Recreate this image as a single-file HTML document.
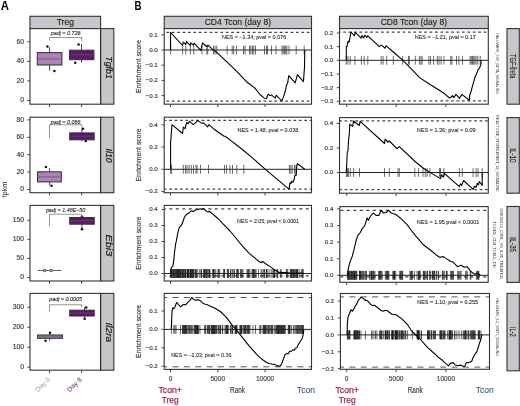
<!DOCTYPE html>
<html><head><meta charset="utf-8"><style>
html,body{margin:0;padding:0;background:#fff;overflow:hidden;width:520px;height:406px;}
svg{display:block;will-change:transform;}
text{font-family:"Liberation Sans", sans-serif;}
</style></head><body>
<svg xmlns="http://www.w3.org/2000/svg" width="520" height="406" viewBox="0 0 520 406">
<rect width="520" height="406" fill="#fff"/>
<text x="0.8" y="9.6" font-size="12.0" fill="#000" text-anchor="start" font-weight="bold" textLength="8.2" lengthAdjust="spacingAndGlyphs" style="">A</text>
<text x="134.5" y="9.6" font-size="12.0" fill="#000" text-anchor="start" font-weight="bold" textLength="7.0" lengthAdjust="spacingAndGlyphs" style="">B</text>
<rect x="30" y="16.3" width="70.6" height="12.3" fill="#c7c6cb" stroke="#333333" stroke-width="1.1" />
<text x="65.3" y="24.6" font-size="8.4" fill="#1a1a1a" text-anchor="middle" textLength="17.3" lengthAdjust="spacingAndGlyphs" stroke="#1a1a1a" stroke-width="0.12" style="">Treg</text>
<rect x="164.2" y="16.3" width="147.3" height="12.3" fill="#c7c6cb" stroke="#333333" stroke-width="1.1" />
<text x="237.85" y="24.6" font-size="8.4" fill="#1a1a1a" text-anchor="middle" textLength="66.4" lengthAdjust="spacingAndGlyphs" stroke="#1a1a1a" stroke-width="0.12" style="">CD4 Tcon (day 8)</text>
<rect x="339.5" y="16.3" width="148.8" height="12.3" fill="#c7c6cb" stroke="#333333" stroke-width="1.1" />
<text x="413.9" y="24.6" font-size="8.4" fill="#1a1a1a" text-anchor="middle" textLength="66.4" lengthAdjust="spacingAndGlyphs" stroke="#1a1a1a" stroke-width="0.12" style="">CD8 Tcon (day 8)</text>
<rect x="30.0" y="28.6" width="70.6" height="75.6" fill="#fff" stroke="none"/>
<rect x="100.6" y="28.6" width="13.2" height="75.6" fill="#c7c6cb" stroke="#333333" stroke-width="1.1" />
<text x="0" y="0" font-size="8.4" fill="#1a1a1a" stroke="#1a1a1a" stroke-width="0.2" text-anchor="middle" transform="translate(105.5,67.6) rotate(90)" textLength="22.6" lengthAdjust="spacingAndGlyphs" style="font-style:italic">Tgfb1</text>
<line x1="27.3" y1="100.5" x2="30" y2="100.5" stroke="#333333" stroke-width="0.9" />
<text x="24" y="102.4" font-size="6.8" fill="#3a3a3a" text-anchor="end" stroke="#3a3a3a" stroke-width="0.15" style="">0</text>
<line x1="27.3" y1="80.93" x2="30" y2="80.93" stroke="#333333" stroke-width="0.9" />
<text x="24" y="82.83" font-size="6.8" fill="#3a3a3a" text-anchor="end" stroke="#3a3a3a" stroke-width="0.15" style="">20</text>
<line x1="27.3" y1="61.36" x2="30" y2="61.36" stroke="#333333" stroke-width="0.9" />
<text x="24" y="63.26" font-size="6.8" fill="#3a3a3a" text-anchor="end" stroke="#3a3a3a" stroke-width="0.15" style="">40</text>
<line x1="27.3" y1="41.79" x2="30" y2="41.79" stroke="#333333" stroke-width="0.9" />
<text x="24" y="43.69" font-size="6.8" fill="#3a3a3a" text-anchor="end" stroke="#3a3a3a" stroke-width="0.15" style="">60</text>
<line x1="49.5" y1="104.2" x2="49.5" y2="107" stroke="#333333" stroke-width="0.9" />
<line x1="81.6" y1="104.2" x2="81.6" y2="107" stroke="#333333" stroke-width="0.9" />
<rect x="30.0" y="117.2" width="70.6" height="75.5" fill="#fff" stroke="none"/>
<rect x="100.6" y="117.2" width="13.2" height="75.5" fill="#c7c6cb" stroke="#333333" stroke-width="1.1" />
<text x="0" y="0" font-size="8.4" fill="#1a1a1a" stroke="#1a1a1a" stroke-width="0.2" text-anchor="middle" transform="translate(105.5,155.6) rotate(90)" textLength="14.2" lengthAdjust="spacingAndGlyphs" style="font-style:italic">Il10</text>
<line x1="27.3" y1="189.5" x2="30" y2="189.5" stroke="#333333" stroke-width="0.9" />
<text x="24" y="191.4" font-size="6.8" fill="#3a3a3a" text-anchor="end" stroke="#3a3a3a" stroke-width="0.15" style="">0</text>
<line x1="27.3" y1="172.1" x2="30" y2="172.1" stroke="#333333" stroke-width="0.9" />
<text x="24" y="174" font-size="6.8" fill="#3a3a3a" text-anchor="end" stroke="#3a3a3a" stroke-width="0.15" style="">20</text>
<line x1="27.3" y1="154.7" x2="30" y2="154.7" stroke="#333333" stroke-width="0.9" />
<text x="24" y="156.6" font-size="6.8" fill="#3a3a3a" text-anchor="end" stroke="#3a3a3a" stroke-width="0.15" style="">40</text>
<line x1="27.3" y1="137.3" x2="30" y2="137.3" stroke="#333333" stroke-width="0.9" />
<text x="24" y="139.2" font-size="6.8" fill="#3a3a3a" text-anchor="end" stroke="#3a3a3a" stroke-width="0.15" style="">60</text>
<line x1="27.3" y1="119.9" x2="30" y2="119.9" stroke="#333333" stroke-width="0.9" />
<text x="24" y="121.8" font-size="6.8" fill="#3a3a3a" text-anchor="end" stroke="#3a3a3a" stroke-width="0.15" style="">80</text>
<line x1="49.5" y1="192.7" x2="49.5" y2="195.5" stroke="#333333" stroke-width="0.9" />
<line x1="81.6" y1="192.7" x2="81.6" y2="195.5" stroke="#333333" stroke-width="0.9" />
<rect x="30.0" y="205.4" width="70.6" height="75.6" fill="#fff" stroke="none"/>
<rect x="100.6" y="205.4" width="13.2" height="75.6" fill="#c7c6cb" stroke="#333333" stroke-width="1.1" />
<text x="0" y="0" font-size="8.4" fill="#1a1a1a" stroke="#1a1a1a" stroke-width="0.2" text-anchor="middle" transform="translate(105.5,245.3) rotate(90)" textLength="21.7" lengthAdjust="spacingAndGlyphs" style="font-style:italic">Ebi3</text>
<line x1="27.3" y1="277.5" x2="30" y2="277.5" stroke="#333333" stroke-width="0.9" />
<text x="24" y="279.4" font-size="6.8" fill="#3a3a3a" text-anchor="end" stroke="#3a3a3a" stroke-width="0.15" style="">0</text>
<line x1="27.3" y1="258.43" x2="30" y2="258.43" stroke="#333333" stroke-width="0.9" />
<text x="24" y="260.33" font-size="6.8" fill="#3a3a3a" text-anchor="end" stroke="#3a3a3a" stroke-width="0.15" style="">50</text>
<line x1="27.3" y1="239.36" x2="30" y2="239.36" stroke="#333333" stroke-width="0.9" />
<text x="24" y="241.26" font-size="6.8" fill="#3a3a3a" text-anchor="end" stroke="#3a3a3a" stroke-width="0.15" style="">100</text>
<line x1="27.3" y1="220.29" x2="30" y2="220.29" stroke="#333333" stroke-width="0.9" />
<text x="24" y="222.19" font-size="6.8" fill="#3a3a3a" text-anchor="end" stroke="#3a3a3a" stroke-width="0.15" style="">150</text>
<line x1="49.5" y1="281" x2="49.5" y2="283.8" stroke="#333333" stroke-width="0.9" />
<line x1="81.6" y1="281" x2="81.6" y2="283.8" stroke="#333333" stroke-width="0.9" />
<rect x="30.0" y="293.4" width="70.6" height="76.8" fill="#fff" stroke="none"/>
<rect x="100.6" y="293.4" width="13.2" height="76.8" fill="#c7c6cb" stroke="#333333" stroke-width="1.1" />
<text x="0" y="0" font-size="8.4" fill="#1a1a1a" stroke="#1a1a1a" stroke-width="0.2" text-anchor="middle" transform="translate(105.5,332.3) rotate(90)" textLength="19.7" lengthAdjust="spacingAndGlyphs" style="font-style:italic">Il2ra</text>
<line x1="27.3" y1="367.2" x2="30" y2="367.2" stroke="#333333" stroke-width="0.9" />
<text x="24" y="369.1" font-size="6.8" fill="#3a3a3a" text-anchor="end" stroke="#3a3a3a" stroke-width="0.15" style="">0</text>
<line x1="27.3" y1="347.23" x2="30" y2="347.23" stroke="#333333" stroke-width="0.9" />
<text x="24" y="349.13" font-size="6.8" fill="#3a3a3a" text-anchor="end" stroke="#3a3a3a" stroke-width="0.15" style="">100</text>
<line x1="27.3" y1="327.27" x2="30" y2="327.27" stroke="#333333" stroke-width="0.9" />
<text x="24" y="329.17" font-size="6.8" fill="#3a3a3a" text-anchor="end" stroke="#3a3a3a" stroke-width="0.15" style="">200</text>
<line x1="27.3" y1="307.3" x2="30" y2="307.3" stroke="#333333" stroke-width="0.9" />
<text x="24" y="309.2" font-size="6.8" fill="#3a3a3a" text-anchor="end" stroke="#3a3a3a" stroke-width="0.15" style="">300</text>
<line x1="49.5" y1="370.2" x2="49.5" y2="373" stroke="#333333" stroke-width="0.9" />
<line x1="81.6" y1="370.2" x2="81.6" y2="373" stroke="#333333" stroke-width="0.9" />
<line x1="49.6" y1="47.1" x2="49.6" y2="52.6" stroke="#333" stroke-width="0.9" />
<line x1="49.6" y1="65" x2="49.6" y2="70.8" stroke="#333" stroke-width="0.9" />
<rect x="37.3" y="52.6" width="24.6" height="12.4" fill="#ab84b6" stroke="#3d2f42" stroke-width="1.05" />
<line x1="37.3" y1="58.9" x2="61.9" y2="58.9" stroke="#7d5487" stroke-width="1.0" />
<circle cx="47.4" cy="46.5" r="1.25" fill="#111"/>
<circle cx="54.4" cy="71" r="1.25" fill="#111"/>
<line x1="81.5" y1="44" x2="81.5" y2="50.2" stroke="#333" stroke-width="0.9" />
<line x1="81.5" y1="59.7" x2="81.5" y2="62.6" stroke="#333" stroke-width="0.9" />
<rect x="69.5" y="50.2" width="24.4" height="9.5" fill="#581b64" stroke="#3d2f42" stroke-width="1.05" />
<line x1="69.5" y1="54.7" x2="93.9" y2="54.7" stroke="#7a2f88" stroke-width="1.0" />
<circle cx="78.6" cy="44.4" r="1.25" fill="#111"/>
<circle cx="75.2" cy="62.8" r="1.25" fill="#111"/>
<line x1="81.8" y1="128.5" x2="81.8" y2="132.9" stroke="#333" stroke-width="0.9" />
<line x1="81.8" y1="139.8" x2="81.8" y2="141" stroke="#333" stroke-width="0.9" />
<rect x="69.7" y="132.9" width="24.5" height="6.9" fill="#581b64" stroke="#3d2f42" stroke-width="1.05" />
<line x1="69.7" y1="136.2" x2="94.2" y2="136.2" stroke="#7a2f88" stroke-width="1.0" />
<circle cx="83" cy="128.7" r="1.25" fill="#111"/>
<circle cx="85.8" cy="140.9" r="1.25" fill="#111"/>
<line x1="49.6" y1="168" x2="49.6" y2="171.8" stroke="#333" stroke-width="0.9" />
<line x1="49.6" y1="181.9" x2="49.6" y2="185.5" stroke="#333" stroke-width="0.9" />
<rect x="37.5" y="171.8" width="23.8" height="10.1" fill="#ab84b6" stroke="#3d2f42" stroke-width="1.05" />
<line x1="37.5" y1="176.9" x2="61.3" y2="176.9" stroke="#7d5487" stroke-width="1.0" />
<circle cx="45.9" cy="166.9" r="1.25" fill="#111"/>
<circle cx="51.5" cy="185.7" r="1.25" fill="#111"/>
<line x1="81.9" y1="216.5" x2="81.9" y2="217.5" stroke="#333" stroke-width="0.9" />
<line x1="81.9" y1="224.2" x2="81.9" y2="229.2" stroke="#333" stroke-width="0.9" />
<rect x="69.7" y="217.5" width="24.5" height="6.7" fill="#581b64" stroke="#3d2f42" stroke-width="1.05" />
<line x1="69.7" y1="220.8" x2="94.2" y2="220.8" stroke="#7a2f88" stroke-width="1.0" />
<circle cx="81.9" cy="216.5" r="1.25" fill="#111"/>
<circle cx="82" cy="229.2" r="1.25" fill="#111"/>
<line x1="37.5" y1="270.5" x2="61.5" y2="270.5" stroke="#6e6470" stroke-width="1.1" />
<circle cx="44.6" cy="270.5" r="1.3" fill="#bbb" stroke="#222" stroke-width="0.7"/>
<circle cx="51.2" cy="270.5" r="1.3" fill="#bbb" stroke="#222" stroke-width="0.7"/>
<line x1="84.5" y1="307.4" x2="84.5" y2="310.2" stroke="#333" stroke-width="0.9" />
<line x1="84.5" y1="316" x2="84.5" y2="318.8" stroke="#333" stroke-width="0.9" />
<rect x="69.7" y="310.2" width="24.5" height="5.8" fill="#581b64" stroke="#3d2f42" stroke-width="1.05" />
<line x1="69.7" y1="313" x2="94.2" y2="313" stroke="#7a2f88" stroke-width="1.0" />
<circle cx="86.2" cy="307.4" r="1.25" fill="#111"/>
<circle cx="84.7" cy="318.8" r="1.25" fill="#111"/>
<line x1="49.6" y1="332.8" x2="49.6" y2="335" stroke="#333" stroke-width="0.9" />
<line x1="49.6" y1="338.3" x2="49.6" y2="340.7" stroke="#333" stroke-width="0.9" />
<rect x="37.5" y="335" width="25" height="3.3" fill="#93809a" stroke="#3d2f42" stroke-width="1.05" />
<line x1="37.5" y1="336.6" x2="62.5" y2="336.6" stroke="#7d6a84" stroke-width="1.0" />
<circle cx="50" cy="332.8" r="1.25" fill="#111"/>
<circle cx="45.5" cy="340.7" r="1.25" fill="#111"/>
<polyline points="49.5,40.8 49.5,37.4 81.7,37.4 81.7,41.5" fill="none" stroke="#999999" stroke-width="1.05"/>
<text x="65.6" y="35.3" font-size="5.4" fill="#222" text-anchor="middle" stroke="#222" stroke-width="0.1" style="font-style:italic">padj = 0.736</text>
<polyline points="49.5,138.1 49.5,124.8 81.7,124.8 81.7,127.6" fill="none" stroke="#999999" stroke-width="1.05"/>
<text x="65.6" y="123.5" font-size="5.4" fill="#222" text-anchor="middle" stroke="#222" stroke-width="0.1" style="font-style:italic">padj = 0.066</text>
<polyline points="49.5,226.6 49.5,214.2 81.7,214.2 81.7,216.8" fill="none" stroke="#999999" stroke-width="1.05"/>
<text x="65.6" y="212.1" font-size="5.4" fill="#222" text-anchor="middle" stroke="#222" stroke-width="0.1" style="font-style:italic">padj = 1.48E–50</text>
<polyline points="49.5,311.7 49.5,304.7 81.7,304.7 81.7,307.0" fill="none" stroke="#999999" stroke-width="1.05"/>
<text x="65.6" y="300.5" font-size="5.4" fill="#222" text-anchor="middle" stroke="#222" stroke-width="0.1" style="font-style:italic">padj = 0.0005</text>
<rect x="30" y="28.6" width="70.6" height="75.6" fill="none" stroke="#333333" stroke-width="1.1" />
<rect x="30" y="117.2" width="70.6" height="75.5" fill="none" stroke="#333333" stroke-width="1.1" />
<rect x="30" y="205.4" width="70.6" height="75.6" fill="none" stroke="#333333" stroke-width="1.1" />
<rect x="30" y="293.4" width="70.6" height="76.8" fill="none" stroke="#333333" stroke-width="1.1" />
<text x="0" y="0" font-size="7.4" fill="#333" text-anchor="middle" transform="translate(7.3,189.5) rotate(-90)">fpkm</text>
<text x="0" y="0" font-size="6.8" fill="#b291bf" text-anchor="end" transform="translate(50.6,380.0) rotate(-45)">Day 0</text>
<text x="0" y="0" font-size="6.8" fill="#5b2a6b" text-anchor="end" transform="translate(82.4,380.0) rotate(-45)">Day 8</text>
<rect x="164.2" y="28.6" width="147.3" height="75.6" fill="#fff" stroke="none"/>
<line x1="164.7" y1="32.3" x2="311" y2="32.3" stroke="#444" stroke-width="1.2" stroke-dasharray="2.7 2.7" stroke-dashoffset="3.7"/>
<line x1="164.7" y1="101.2" x2="311" y2="101.2" stroke="#444" stroke-width="1.2" stroke-dasharray="2.7 2.7" stroke-dashoffset="3.7"/>
<line x1="164.2" y1="50" x2="311.5" y2="50" stroke="#222" stroke-width="1.0" />
<line x1="170.7" y1="45.6" x2="170.7" y2="54.4" stroke="#3a3a3a" stroke-width="0.75" />
<line x1="182.6" y1="45.6" x2="182.6" y2="54.4" stroke="#3a3a3a" stroke-width="0.75" />
<line x1="185.8" y1="45.6" x2="185.8" y2="54.4" stroke="#3a3a3a" stroke-width="0.75" />
<line x1="190.4" y1="45.6" x2="190.4" y2="54.4" stroke="#3a3a3a" stroke-width="0.75" />
<line x1="193.7" y1="45.6" x2="193.7" y2="54.4" stroke="#3a3a3a" stroke-width="0.75" />
<line x1="201.9" y1="45.6" x2="201.9" y2="54.4" stroke="#3a3a3a" stroke-width="0.75" />
<line x1="206.8" y1="45.6" x2="206.8" y2="54.4" stroke="#3a3a3a" stroke-width="0.75" />
<line x1="207.7" y1="45.6" x2="207.7" y2="54.4" stroke="#3a3a3a" stroke-width="0.75" />
<line x1="213.5" y1="45.6" x2="213.5" y2="54.4" stroke="#3a3a3a" stroke-width="0.75" />
<line x1="215" y1="45.6" x2="215" y2="54.4" stroke="#3a3a3a" stroke-width="0.75" />
<line x1="216.8" y1="45.6" x2="216.8" y2="54.4" stroke="#3a3a3a" stroke-width="0.75" />
<line x1="227.2" y1="45.6" x2="227.2" y2="54.4" stroke="#3a3a3a" stroke-width="0.75" />
<line x1="232.2" y1="45.6" x2="232.2" y2="54.4" stroke="#3a3a3a" stroke-width="0.75" />
<line x1="233.7" y1="45.6" x2="233.7" y2="54.4" stroke="#3a3a3a" stroke-width="0.75" />
<line x1="236.5" y1="45.6" x2="236.5" y2="54.4" stroke="#3a3a3a" stroke-width="0.75" />
<line x1="243.5" y1="45.6" x2="243.5" y2="54.4" stroke="#3a3a3a" stroke-width="0.75" />
<line x1="245" y1="45.6" x2="245" y2="54.4" stroke="#3a3a3a" stroke-width="0.75" />
<line x1="249.5" y1="45.6" x2="249.5" y2="54.4" stroke="#3a3a3a" stroke-width="0.75" />
<line x1="250.8" y1="45.6" x2="250.8" y2="54.4" stroke="#3a3a3a" stroke-width="0.75" />
<line x1="252.5" y1="45.6" x2="252.5" y2="54.4" stroke="#3a3a3a" stroke-width="0.75" />
<line x1="253.7" y1="45.6" x2="253.7" y2="54.4" stroke="#3a3a3a" stroke-width="0.75" />
<line x1="255.5" y1="45.6" x2="255.5" y2="54.4" stroke="#3a3a3a" stroke-width="0.75" />
<line x1="264.5" y1="45.6" x2="264.5" y2="54.4" stroke="#3a3a3a" stroke-width="0.75" />
<line x1="266.5" y1="45.6" x2="266.5" y2="54.4" stroke="#3a3a3a" stroke-width="0.75" />
<line x1="267.5" y1="45.6" x2="267.5" y2="54.4" stroke="#3a3a3a" stroke-width="0.75" />
<line x1="271.5" y1="45.6" x2="271.5" y2="54.4" stroke="#3a3a3a" stroke-width="0.75" />
<line x1="276" y1="45.6" x2="276" y2="54.4" stroke="#3a3a3a" stroke-width="0.75" />
<line x1="282" y1="45.6" x2="282" y2="54.4" stroke="#3a3a3a" stroke-width="0.75" />
<line x1="283.2" y1="45.6" x2="283.2" y2="54.4" stroke="#3a3a3a" stroke-width="0.75" />
<line x1="284.5" y1="45.6" x2="284.5" y2="54.4" stroke="#3a3a3a" stroke-width="0.75" />
<line x1="285.8" y1="45.6" x2="285.8" y2="54.4" stroke="#3a3a3a" stroke-width="0.75" />
<line x1="286.8" y1="45.6" x2="286.8" y2="54.4" stroke="#3a3a3a" stroke-width="0.75" />
<line x1="289" y1="45.6" x2="289" y2="54.4" stroke="#3a3a3a" stroke-width="0.75" />
<line x1="296.2" y1="45.6" x2="296.2" y2="54.4" stroke="#3a3a3a" stroke-width="0.75" />
<line x1="304.2" y1="45.6" x2="304.2" y2="54.4" stroke="#3a3a3a" stroke-width="0.75" />
<polyline points="170.5,50 170.5,32.3 182.6,45.5 183.2,42.2 185.8,44.5 186.5,41.3 190.1,45.5 190.7,42.9 193.4,45.2 194,43.2 200.9,50.4 202.5,42.9 206.4,46.5 208.1,45.2 213.5,50.4 215,51.3 216.8,52.4 236,70.7 247.2,82.3 254.7,87.9 260,94.5 264.3,98.2 266.5,98.5 268.1,94.2 270.3,95.6 271.4,94.9 275.2,98.2 276.3,95.2 281.7,101 283.3,97.4 285.2,91.5 286.6,84.9 287.7,82.8 288.7,75.7 295.2,82.8 297.4,74.6 303.4,81.7 303.9,75.2 304.5,67.6 304.8,50" fill="none" stroke="#000" stroke-width="1.1" stroke-linejoin="round" />
<text x="222" y="38.6" font-size="5.6" fill="#2a2a2a" text-anchor="start" textLength="64.3" lengthAdjust="spacingAndGlyphs" stroke="#2a2a2a" stroke-width="0.1" style="">NES = –1.34; pval = 0.076</text>
<line x1="161.5" y1="34.8" x2="164.2" y2="34.8" stroke="#333333" stroke-width="0.9" />
<text x="157.8" y="36.7" font-size="6.2" fill="#3a3a3a" text-anchor="end" stroke="#3a3a3a" stroke-width="0.15" style="">0.1</text>
<line x1="161.5" y1="50" x2="164.2" y2="50" stroke="#333333" stroke-width="0.9" />
<text x="157.8" y="51.9" font-size="6.2" fill="#3a3a3a" text-anchor="end" stroke="#3a3a3a" stroke-width="0.15" style="">0.0</text>
<line x1="161.5" y1="65.2" x2="164.2" y2="65.2" stroke="#333333" stroke-width="0.9" />
<text x="157.8" y="67.1" font-size="6.2" fill="#3a3a3a" text-anchor="end" stroke="#3a3a3a" stroke-width="0.15" style="">−0.1</text>
<line x1="161.5" y1="80.4" x2="164.2" y2="80.4" stroke="#333333" stroke-width="0.9" />
<text x="157.8" y="82.3" font-size="6.2" fill="#3a3a3a" text-anchor="end" stroke="#3a3a3a" stroke-width="0.15" style="">−0.2</text>
<line x1="161.5" y1="95.6" x2="164.2" y2="95.6" stroke="#333333" stroke-width="0.9" />
<text x="157.8" y="97.5" font-size="6.2" fill="#3a3a3a" text-anchor="end" stroke="#3a3a3a" stroke-width="0.15" style="">−0.3</text>
<line x1="170.5" y1="104.2" x2="170.5" y2="107" stroke="#333333" stroke-width="0.9" />
<line x1="217.8" y1="104.2" x2="217.8" y2="107" stroke="#333333" stroke-width="0.9" />
<line x1="265.1" y1="104.2" x2="265.1" y2="107" stroke="#333333" stroke-width="0.9" />
<rect x="164.2" y="28.6" width="147.3" height="75.6" fill="none" stroke="#333333" stroke-width="1.1" />
<rect x="339.5" y="28.6" width="148.8" height="75.6" fill="#fff" stroke="none"/>
<line x1="340" y1="32.1" x2="487.8" y2="32.1" stroke="#444" stroke-width="1.2" stroke-dasharray="2.7 2.7" stroke-dashoffset="2.2"/>
<line x1="340" y1="100.8" x2="487.8" y2="100.8" stroke="#444" stroke-width="1.2" stroke-dasharray="2.7 2.7" stroke-dashoffset="2.2"/>
<line x1="339.5" y1="60.3" x2="488.3" y2="60.3" stroke="#222" stroke-width="1.0" />
<line x1="346.3" y1="55.9" x2="346.3" y2="64.7" stroke="#3a3a3a" stroke-width="0.75" />
<line x1="348" y1="55.9" x2="348" y2="64.7" stroke="#3a3a3a" stroke-width="0.75" />
<line x1="350.2" y1="55.9" x2="350.2" y2="64.7" stroke="#3a3a3a" stroke-width="0.75" />
<line x1="354.9" y1="55.9" x2="354.9" y2="64.7" stroke="#3a3a3a" stroke-width="0.75" />
<line x1="361.4" y1="55.9" x2="361.4" y2="64.7" stroke="#3a3a3a" stroke-width="0.75" />
<line x1="364.2" y1="55.9" x2="364.2" y2="64.7" stroke="#3a3a3a" stroke-width="0.75" />
<line x1="367.8" y1="55.9" x2="367.8" y2="64.7" stroke="#3a3a3a" stroke-width="0.75" />
<line x1="381.2" y1="55.9" x2="381.2" y2="64.7" stroke="#3a3a3a" stroke-width="0.75" />
<line x1="383.1" y1="55.9" x2="383.1" y2="64.7" stroke="#3a3a3a" stroke-width="0.75" />
<line x1="386.7" y1="55.9" x2="386.7" y2="64.7" stroke="#3a3a3a" stroke-width="0.75" />
<line x1="393.3" y1="55.9" x2="393.3" y2="64.7" stroke="#3a3a3a" stroke-width="0.75" />
<line x1="402.6" y1="55.9" x2="402.6" y2="64.7" stroke="#3a3a3a" stroke-width="0.75" />
<line x1="408.5" y1="55.9" x2="408.5" y2="64.7" stroke="#3a3a3a" stroke-width="0.75" />
<line x1="409.3" y1="55.9" x2="409.3" y2="64.7" stroke="#3a3a3a" stroke-width="0.75" />
<line x1="415.3" y1="55.9" x2="415.3" y2="64.7" stroke="#3a3a3a" stroke-width="0.75" />
<line x1="419.4" y1="55.9" x2="419.4" y2="64.7" stroke="#3a3a3a" stroke-width="0.75" />
<line x1="421" y1="55.9" x2="421" y2="64.7" stroke="#3a3a3a" stroke-width="0.75" />
<line x1="422.1" y1="55.9" x2="422.1" y2="64.7" stroke="#3a3a3a" stroke-width="0.75" />
<line x1="428.9" y1="55.9" x2="428.9" y2="64.7" stroke="#3a3a3a" stroke-width="0.75" />
<line x1="430.5" y1="55.9" x2="430.5" y2="64.7" stroke="#3a3a3a" stroke-width="0.75" />
<line x1="433.6" y1="55.9" x2="433.6" y2="64.7" stroke="#3a3a3a" stroke-width="0.75" />
<line x1="437.3" y1="55.9" x2="437.3" y2="64.7" stroke="#3a3a3a" stroke-width="0.75" />
<line x1="439" y1="55.9" x2="439" y2="64.7" stroke="#3a3a3a" stroke-width="0.75" />
<line x1="441.1" y1="55.9" x2="441.1" y2="64.7" stroke="#3a3a3a" stroke-width="0.75" />
<line x1="444" y1="55.9" x2="444" y2="64.7" stroke="#3a3a3a" stroke-width="0.75" />
<line x1="450.8" y1="55.9" x2="450.8" y2="64.7" stroke="#3a3a3a" stroke-width="0.75" />
<line x1="451.9" y1="55.9" x2="451.9" y2="64.7" stroke="#3a3a3a" stroke-width="0.75" />
<line x1="456.5" y1="55.9" x2="456.5" y2="64.7" stroke="#3a3a3a" stroke-width="0.75" />
<line x1="458.9" y1="55.9" x2="458.9" y2="64.7" stroke="#3a3a3a" stroke-width="0.75" />
<line x1="462.5" y1="55.9" x2="462.5" y2="64.7" stroke="#3a3a3a" stroke-width="0.75" />
<line x1="470.1" y1="55.9" x2="470.1" y2="64.7" stroke="#3a3a3a" stroke-width="0.75" />
<line x1="471.3" y1="55.9" x2="471.3" y2="64.7" stroke="#3a3a3a" stroke-width="0.75" />
<line x1="472.5" y1="55.9" x2="472.5" y2="64.7" stroke="#3a3a3a" stroke-width="0.75" />
<line x1="473.7" y1="55.9" x2="473.7" y2="64.7" stroke="#3a3a3a" stroke-width="0.75" />
<line x1="474.9" y1="55.9" x2="474.9" y2="64.7" stroke="#3a3a3a" stroke-width="0.75" />
<line x1="476.1" y1="55.9" x2="476.1" y2="64.7" stroke="#3a3a3a" stroke-width="0.75" />
<line x1="477.8" y1="55.9" x2="477.8" y2="64.7" stroke="#3a3a3a" stroke-width="0.75" />
<line x1="480.2" y1="55.9" x2="480.2" y2="64.7" stroke="#3a3a3a" stroke-width="0.75" />
<polyline points="346.3,60.3 346.3,46.6 347,46.4 348,41.3 349.1,42.2 350,37.3 350.7,33.3 351.1,32 354.4,36 355.3,32.4 361.1,38.2 362,35.5 363.8,37.8 364.9,35.1 366.9,37.3 367.8,35.8 379.3,46.7 381.1,45.2 382.4,45.8 384.9,48.2 386.2,45.8 393.3,52 402.7,60.2 412,69.6 419.5,77.6 428.9,83.8 440.1,90.7 444.7,93.8 449.5,98 451.2,97.1 452.4,95.6 453.6,97.6 456,94.4 459.5,98.3 461.9,94.4 469.3,100.3 469.8,95 471,91.5 473.1,83.8 474.9,77.3 476.6,73.7 478.1,69.6 479.6,67.8 480.8,64.9 481.2,60.3" fill="none" stroke="#000" stroke-width="1.1" stroke-linejoin="round" />
<text x="414.8" y="38.7" font-size="5.6" fill="#2a2a2a" text-anchor="start" textLength="60.9" lengthAdjust="spacingAndGlyphs" stroke="#2a2a2a" stroke-width="0.1" style="">NES = –1.21; pval = 0.17</text>
<line x1="336.8" y1="32.94" x2="339.5" y2="32.94" stroke="#333333" stroke-width="0.9" />
<text x="333.1" y="34.84" font-size="6.2" fill="#3a3a3a" text-anchor="end" stroke="#3a3a3a" stroke-width="0.15" style="">0.2</text>
<line x1="336.8" y1="46.62" x2="339.5" y2="46.62" stroke="#333333" stroke-width="0.9" />
<text x="333.1" y="48.52" font-size="6.2" fill="#3a3a3a" text-anchor="end" stroke="#3a3a3a" stroke-width="0.15" style="">0.1</text>
<line x1="336.8" y1="60.3" x2="339.5" y2="60.3" stroke="#333333" stroke-width="0.9" />
<text x="333.1" y="62.2" font-size="6.2" fill="#3a3a3a" text-anchor="end" stroke="#3a3a3a" stroke-width="0.15" style="">0.0</text>
<line x1="336.8" y1="73.98" x2="339.5" y2="73.98" stroke="#333333" stroke-width="0.9" />
<text x="333.1" y="75.88" font-size="6.2" fill="#3a3a3a" text-anchor="end" stroke="#3a3a3a" stroke-width="0.15" style="">−0.1</text>
<line x1="336.8" y1="87.66" x2="339.5" y2="87.66" stroke="#333333" stroke-width="0.9" />
<text x="333.1" y="89.56" font-size="6.2" fill="#3a3a3a" text-anchor="end" stroke="#3a3a3a" stroke-width="0.15" style="">−0.2</text>
<line x1="336.8" y1="101.34" x2="339.5" y2="101.34" stroke="#333333" stroke-width="0.9" />
<text x="333.1" y="103.24" font-size="6.2" fill="#3a3a3a" text-anchor="end" stroke="#3a3a3a" stroke-width="0.15" style="">−0.3</text>
<line x1="346.7" y1="104.2" x2="346.7" y2="107" stroke="#333333" stroke-width="0.9" />
<line x1="396.2" y1="104.2" x2="396.2" y2="107" stroke="#333333" stroke-width="0.9" />
<line x1="445.9" y1="104.2" x2="445.9" y2="107" stroke="#333333" stroke-width="0.9" />
<rect x="339.5" y="28.6" width="148.8" height="75.6" fill="none" stroke="#333333" stroke-width="1.1" />
<rect x="164.2" y="117.2" width="147.3" height="75.5" fill="#fff" stroke="none"/>
<line x1="164.7" y1="120.3" x2="311" y2="120.3" stroke="#444" stroke-width="1.2" stroke-dasharray="2.7 2.7" stroke-dashoffset="0.8"/>
<line x1="164.7" y1="189.2" x2="311" y2="189.2" stroke="#444" stroke-width="1.2" stroke-dasharray="2.7 2.7" stroke-dashoffset="0.8"/>
<line x1="164.2" y1="169.3" x2="311.5" y2="169.3" stroke="#222" stroke-width="1.0" />
<line x1="170.6" y1="164.9" x2="170.6" y2="173.7" stroke="#444" stroke-width="0.8" />
<line x1="171.6" y1="164.9" x2="171.6" y2="173.7" stroke="#444" stroke-width="0.8" />
<line x1="183.3" y1="164.9" x2="183.3" y2="173.7" stroke="#444" stroke-width="0.8" />
<line x1="185.5" y1="164.9" x2="185.5" y2="173.7" stroke="#444" stroke-width="0.8" />
<line x1="187" y1="164.9" x2="187" y2="173.7" stroke="#444" stroke-width="0.8" />
<line x1="189" y1="164.9" x2="189" y2="173.7" stroke="#444" stroke-width="0.8" />
<line x1="191.3" y1="164.9" x2="191.3" y2="173.7" stroke="#444" stroke-width="0.8" />
<line x1="193.5" y1="164.9" x2="193.5" y2="173.7" stroke="#444" stroke-width="0.8" />
<line x1="196" y1="164.9" x2="196" y2="173.7" stroke="#444" stroke-width="0.8" />
<line x1="197" y1="164.9" x2="197" y2="173.7" stroke="#444" stroke-width="0.8" />
<line x1="200.5" y1="164.9" x2="200.5" y2="173.7" stroke="#444" stroke-width="0.8" />
<line x1="208.5" y1="164.9" x2="208.5" y2="173.7" stroke="#444" stroke-width="0.8" />
<line x1="224.5" y1="164.9" x2="224.5" y2="173.7" stroke="#444" stroke-width="0.8" />
<line x1="226.5" y1="164.9" x2="226.5" y2="173.7" stroke="#444" stroke-width="0.8" />
<line x1="230" y1="164.9" x2="230" y2="173.7" stroke="#444" stroke-width="0.8" />
<line x1="232.5" y1="164.9" x2="232.5" y2="173.7" stroke="#444" stroke-width="0.8" />
<line x1="236.8" y1="164.9" x2="236.8" y2="173.7" stroke="#444" stroke-width="0.8" />
<line x1="243.8" y1="164.9" x2="243.8" y2="173.7" stroke="#444" stroke-width="0.8" />
<line x1="289.4" y1="164.9" x2="289.4" y2="173.7" stroke="#444" stroke-width="0.8" />
<line x1="290.8" y1="164.9" x2="290.8" y2="173.7" stroke="#444" stroke-width="0.8" />
<line x1="292.2" y1="164.9" x2="292.2" y2="173.7" stroke="#444" stroke-width="0.8" />
<line x1="294.5" y1="164.9" x2="294.5" y2="173.7" stroke="#444" stroke-width="0.8" />
<line x1="295.9" y1="164.9" x2="295.9" y2="173.7" stroke="#444" stroke-width="0.8" />
<polyline points="170.6,169.3 170.6,142.6 171.2,135 172,124.7 182.5,133.5 183.4,127.1 185.2,128.6 185.8,125.2 186.8,122.5 188.3,123.7 189.5,121.2 193.2,124.6 194.8,123.4 196.1,122.2 197.5,120.6 202.2,123.4 203.4,122.8 207.7,126.8 208.9,124.6 214.8,129.8 223.7,136 225,136.3 226.6,137.3 231.6,141.1 236,144.5 242.4,149.5 251.8,157.4 265.4,169.3 288.9,189.2 290.1,182.6 291,183.5 291.7,181.2 293.1,182.1 294,179.8 295,175.1 296.1,175.6 296.7,167.2 297.3,163.6 304.8,169.3" fill="none" stroke="#000" stroke-width="1.1" stroke-linejoin="round" />
<text x="237.5" y="131.6" font-size="5.6" fill="#2a2a2a" text-anchor="start" textLength="60.7" lengthAdjust="spacingAndGlyphs" stroke="#2a2a2a" stroke-width="0.1" style="">NES = 1.48; pval = 0.038</text>
<line x1="161.5" y1="124.74" x2="164.2" y2="124.74" stroke="#333333" stroke-width="0.9" />
<text x="157.8" y="126.64" font-size="6.2" fill="#3a3a3a" text-anchor="end" stroke="#3a3a3a" stroke-width="0.15" style="">0.4</text>
<line x1="161.5" y1="147.02" x2="164.2" y2="147.02" stroke="#333333" stroke-width="0.9" />
<text x="157.8" y="148.92" font-size="6.2" fill="#3a3a3a" text-anchor="end" stroke="#3a3a3a" stroke-width="0.15" style="">0.2</text>
<line x1="161.5" y1="169.3" x2="164.2" y2="169.3" stroke="#333333" stroke-width="0.9" />
<text x="157.8" y="171.2" font-size="6.2" fill="#3a3a3a" text-anchor="end" stroke="#3a3a3a" stroke-width="0.15" style="">0.0</text>
<line x1="161.5" y1="191.58" x2="164.2" y2="191.58" stroke="#333333" stroke-width="0.9" />
<text x="157.8" y="193.48" font-size="6.2" fill="#3a3a3a" text-anchor="end" stroke="#3a3a3a" stroke-width="0.15" style="">−0.2</text>
<line x1="170.5" y1="192.7" x2="170.5" y2="195.5" stroke="#333333" stroke-width="0.9" />
<line x1="217.8" y1="192.7" x2="217.8" y2="195.5" stroke="#333333" stroke-width="0.9" />
<line x1="265.1" y1="192.7" x2="265.1" y2="195.5" stroke="#333333" stroke-width="0.9" />
<rect x="164.2" y="117.2" width="147.3" height="75.5" fill="none" stroke="#333333" stroke-width="1.1" />
<rect x="339.5" y="117.6" width="148.8" height="75.6" fill="#fff" stroke="none"/>
<line x1="340" y1="120.8" x2="487.8" y2="120.8" stroke="#444" stroke-width="1.2" stroke-dasharray="2.7 2.7" stroke-dashoffset="0.8"/>
<line x1="340" y1="189.6" x2="487.8" y2="189.6" stroke="#444" stroke-width="1.2" stroke-dasharray="2.7 2.7" stroke-dashoffset="0.8"/>
<line x1="339.5" y1="172.5" x2="488.3" y2="172.5" stroke="#222" stroke-width="1.0" />
<line x1="346.4" y1="168.1" x2="346.4" y2="176.9" stroke="#444" stroke-width="0.8" />
<line x1="347.5" y1="168.1" x2="347.5" y2="176.9" stroke="#444" stroke-width="0.8" />
<line x1="348.5" y1="168.1" x2="348.5" y2="176.9" stroke="#444" stroke-width="0.8" />
<line x1="350.4" y1="168.1" x2="350.4" y2="176.9" stroke="#444" stroke-width="0.8" />
<line x1="353.6" y1="168.1" x2="353.6" y2="176.9" stroke="#444" stroke-width="0.8" />
<line x1="359.5" y1="168.1" x2="359.5" y2="176.9" stroke="#444" stroke-width="0.8" />
<line x1="384.5" y1="168.1" x2="384.5" y2="176.9" stroke="#444" stroke-width="0.8" />
<line x1="389.3" y1="168.1" x2="389.3" y2="176.9" stroke="#444" stroke-width="0.8" />
<line x1="398" y1="168.1" x2="398" y2="176.9" stroke="#444" stroke-width="0.8" />
<line x1="399.3" y1="168.1" x2="399.3" y2="176.9" stroke="#444" stroke-width="0.8" />
<line x1="414.8" y1="168.1" x2="414.8" y2="176.9" stroke="#444" stroke-width="0.8" />
<line x1="418.6" y1="168.1" x2="418.6" y2="176.9" stroke="#444" stroke-width="0.8" />
<line x1="423" y1="168.1" x2="423" y2="176.9" stroke="#444" stroke-width="0.8" />
<line x1="425.3" y1="168.1" x2="425.3" y2="176.9" stroke="#444" stroke-width="0.8" />
<line x1="427.2" y1="168.1" x2="427.2" y2="176.9" stroke="#444" stroke-width="0.8" />
<line x1="430" y1="168.1" x2="430" y2="176.9" stroke="#444" stroke-width="0.8" />
<line x1="439.5" y1="168.1" x2="439.5" y2="176.9" stroke="#444" stroke-width="0.8" />
<line x1="440.5" y1="168.1" x2="440.5" y2="176.9" stroke="#444" stroke-width="0.8" />
<line x1="443.9" y1="168.1" x2="443.9" y2="176.9" stroke="#444" stroke-width="0.8" />
<line x1="459.4" y1="168.1" x2="459.4" y2="176.9" stroke="#444" stroke-width="0.8" />
<line x1="462.3" y1="168.1" x2="462.3" y2="176.9" stroke="#444" stroke-width="0.8" />
<line x1="473.1" y1="168.1" x2="473.1" y2="176.9" stroke="#444" stroke-width="0.8" />
<line x1="476.1" y1="168.1" x2="476.1" y2="176.9" stroke="#444" stroke-width="0.8" />
<line x1="478" y1="168.1" x2="478" y2="176.9" stroke="#444" stroke-width="0.8" />
<line x1="482.2" y1="168.1" x2="482.2" y2="176.9" stroke="#444" stroke-width="0.8" />
<polyline points="346.3,172.5 347.3,151.8 348,151 348.6,140 349.3,134 349.8,124.3 352.8,126.4 353.5,121 359.2,125.5 360.2,121.4 384.5,143.5 385.1,139.2 388,142.2 389.3,141 396.9,148.6 399.3,146.7 415.1,161.5 423.4,168.2 430,172.4 440.5,178.6 441.4,174.8 443.3,177.1 444.3,173.3 459.4,186.6 460.4,183.9 461.7,185.3 463.6,180.5 473.1,189.3 474.6,186.2 476.1,187.2 477.5,183.4 478.4,184.7 479.4,181.5 482.2,185.3 482.2,172.5" fill="none" stroke="#000" stroke-width="1.1" stroke-linejoin="round" />
<text x="416.7" y="131.6" font-size="5.6" fill="#2a2a2a" text-anchor="start" textLength="58.9" lengthAdjust="spacingAndGlyphs" stroke="#2a2a2a" stroke-width="0.1" style="">NES = 1.36; pval = 0.09</text>
<line x1="336.8" y1="123.5" x2="339.5" y2="123.5" stroke="#333333" stroke-width="0.9" />
<text x="333.1" y="125.4" font-size="6.2" fill="#3a3a3a" text-anchor="end" stroke="#3a3a3a" stroke-width="0.15" style="">0.4</text>
<line x1="336.8" y1="148" x2="339.5" y2="148" stroke="#333333" stroke-width="0.9" />
<text x="333.1" y="149.9" font-size="6.2" fill="#3a3a3a" text-anchor="end" stroke="#3a3a3a" stroke-width="0.15" style="">0.2</text>
<line x1="336.8" y1="172.5" x2="339.5" y2="172.5" stroke="#333333" stroke-width="0.9" />
<text x="333.1" y="174.4" font-size="6.2" fill="#3a3a3a" text-anchor="end" stroke="#3a3a3a" stroke-width="0.15" style="">0.0</text>
<line x1="346.7" y1="193.2" x2="346.7" y2="196" stroke="#333333" stroke-width="0.9" />
<line x1="396.2" y1="193.2" x2="396.2" y2="196" stroke="#333333" stroke-width="0.9" />
<line x1="445.9" y1="193.2" x2="445.9" y2="196" stroke="#333333" stroke-width="0.9" />
<rect x="339.5" y="117.6" width="148.8" height="75.6" fill="none" stroke="#333333" stroke-width="1.1" />
<rect x="164.2" y="205.4" width="147.3" height="75.6" fill="#fff" stroke="none"/>
<line x1="164.7" y1="208.8" x2="311" y2="208.8" stroke="#444" stroke-width="1.2" stroke-dasharray="3.0 3.5" stroke-dashoffset="1.9"/>
<line x1="164.7" y1="275.9" x2="311" y2="275.9" stroke="#444" stroke-width="1.2" stroke-dasharray="3.0 3.5" stroke-dashoffset="1.9"/>
<line x1="164.2" y1="273.5" x2="311.5" y2="273.5" stroke="#222" stroke-width="1.0" />
<line x1="170.73" y1="269.1" x2="170.73" y2="277.9" stroke="#222" stroke-width="0.7" />
<line x1="170.95" y1="269.1" x2="170.95" y2="277.9" stroke="#222" stroke-width="0.7" />
<line x1="171.13" y1="269.1" x2="171.13" y2="277.9" stroke="#222" stroke-width="0.7" />
<line x1="171.4" y1="269.1" x2="171.4" y2="277.9" stroke="#222" stroke-width="0.7" />
<line x1="171.56" y1="269.1" x2="171.56" y2="277.9" stroke="#222" stroke-width="0.7" />
<line x1="171.87" y1="269.1" x2="171.87" y2="277.9" stroke="#222" stroke-width="0.7" />
<line x1="171.92" y1="269.1" x2="171.92" y2="277.9" stroke="#222" stroke-width="0.7" />
<line x1="172.88" y1="269.1" x2="172.88" y2="277.9" stroke="#222" stroke-width="0.7" />
<line x1="173.29" y1="269.1" x2="173.29" y2="277.9" stroke="#222" stroke-width="0.7" />
<line x1="173.37" y1="269.1" x2="173.37" y2="277.9" stroke="#222" stroke-width="0.7" />
<line x1="173.97" y1="269.1" x2="173.97" y2="277.9" stroke="#222" stroke-width="0.7" />
<line x1="174.15" y1="269.1" x2="174.15" y2="277.9" stroke="#222" stroke-width="0.7" />
<line x1="174.7" y1="269.1" x2="174.7" y2="277.9" stroke="#222" stroke-width="0.7" />
<line x1="174.86" y1="269.1" x2="174.86" y2="277.9" stroke="#222" stroke-width="0.7" />
<line x1="175.08" y1="269.1" x2="175.08" y2="277.9" stroke="#222" stroke-width="0.7" />
<line x1="175.26" y1="269.1" x2="175.26" y2="277.9" stroke="#222" stroke-width="0.7" />
<line x1="176.34" y1="269.1" x2="176.34" y2="277.9" stroke="#222" stroke-width="0.7" />
<line x1="176.55" y1="269.1" x2="176.55" y2="277.9" stroke="#222" stroke-width="0.7" />
<line x1="177.15" y1="269.1" x2="177.15" y2="277.9" stroke="#222" stroke-width="0.7" />
<line x1="177.33" y1="269.1" x2="177.33" y2="277.9" stroke="#222" stroke-width="0.7" />
<line x1="177.41" y1="269.1" x2="177.41" y2="277.9" stroke="#222" stroke-width="0.7" />
<line x1="177.51" y1="269.1" x2="177.51" y2="277.9" stroke="#222" stroke-width="0.7" />
<line x1="177.53" y1="269.1" x2="177.53" y2="277.9" stroke="#222" stroke-width="0.7" />
<line x1="178.05" y1="269.1" x2="178.05" y2="277.9" stroke="#222" stroke-width="0.7" />
<line x1="178.17" y1="269.1" x2="178.17" y2="277.9" stroke="#222" stroke-width="0.7" />
<line x1="178.23" y1="269.1" x2="178.23" y2="277.9" stroke="#222" stroke-width="0.7" />
<line x1="178.34" y1="269.1" x2="178.34" y2="277.9" stroke="#222" stroke-width="0.7" />
<line x1="178.48" y1="269.1" x2="178.48" y2="277.9" stroke="#222" stroke-width="0.7" />
<line x1="178.95" y1="269.1" x2="178.95" y2="277.9" stroke="#222" stroke-width="0.7" />
<line x1="179.37" y1="269.1" x2="179.37" y2="277.9" stroke="#222" stroke-width="0.7" />
<line x1="179.79" y1="269.1" x2="179.79" y2="277.9" stroke="#222" stroke-width="0.7" />
<line x1="180.01" y1="269.1" x2="180.01" y2="277.9" stroke="#222" stroke-width="0.7" />
<line x1="180.17" y1="269.1" x2="180.17" y2="277.9" stroke="#222" stroke-width="0.7" />
<line x1="180.37" y1="269.1" x2="180.37" y2="277.9" stroke="#222" stroke-width="0.7" />
<line x1="180.5" y1="269.1" x2="180.5" y2="277.9" stroke="#222" stroke-width="0.7" />
<line x1="180.97" y1="269.1" x2="180.97" y2="277.9" stroke="#222" stroke-width="0.7" />
<line x1="181.19" y1="269.1" x2="181.19" y2="277.9" stroke="#222" stroke-width="0.7" />
<line x1="182.07" y1="269.1" x2="182.07" y2="277.9" stroke="#222" stroke-width="0.7" />
<line x1="182.47" y1="269.1" x2="182.47" y2="277.9" stroke="#222" stroke-width="0.7" />
<line x1="182.73" y1="269.1" x2="182.73" y2="277.9" stroke="#222" stroke-width="0.7" />
<line x1="183.19" y1="269.1" x2="183.19" y2="277.9" stroke="#222" stroke-width="0.7" />
<line x1="183.22" y1="269.1" x2="183.22" y2="277.9" stroke="#222" stroke-width="0.7" />
<line x1="183.28" y1="269.1" x2="183.28" y2="277.9" stroke="#222" stroke-width="0.7" />
<line x1="184.46" y1="269.1" x2="184.46" y2="277.9" stroke="#222" stroke-width="0.7" />
<line x1="185.07" y1="269.1" x2="185.07" y2="277.9" stroke="#222" stroke-width="0.7" />
<line x1="185.33" y1="269.1" x2="185.33" y2="277.9" stroke="#222" stroke-width="0.7" />
<line x1="185.53" y1="269.1" x2="185.53" y2="277.9" stroke="#222" stroke-width="0.7" />
<line x1="185.56" y1="269.1" x2="185.56" y2="277.9" stroke="#222" stroke-width="0.7" />
<line x1="185.61" y1="269.1" x2="185.61" y2="277.9" stroke="#222" stroke-width="0.7" />
<line x1="187.07" y1="269.1" x2="187.07" y2="277.9" stroke="#222" stroke-width="0.7" />
<line x1="187.39" y1="269.1" x2="187.39" y2="277.9" stroke="#222" stroke-width="0.7" />
<line x1="187.4" y1="269.1" x2="187.4" y2="277.9" stroke="#222" stroke-width="0.7" />
<line x1="187.74" y1="269.1" x2="187.74" y2="277.9" stroke="#222" stroke-width="0.7" />
<line x1="187.81" y1="269.1" x2="187.81" y2="277.9" stroke="#222" stroke-width="0.7" />
<line x1="188.06" y1="269.1" x2="188.06" y2="277.9" stroke="#222" stroke-width="0.7" />
<line x1="188.08" y1="269.1" x2="188.08" y2="277.9" stroke="#222" stroke-width="0.7" />
<line x1="188.45" y1="269.1" x2="188.45" y2="277.9" stroke="#222" stroke-width="0.7" />
<line x1="188.49" y1="269.1" x2="188.49" y2="277.9" stroke="#222" stroke-width="0.7" />
<line x1="188.81" y1="269.1" x2="188.81" y2="277.9" stroke="#222" stroke-width="0.7" />
<line x1="189.95" y1="269.1" x2="189.95" y2="277.9" stroke="#222" stroke-width="0.7" />
<line x1="190.27" y1="269.1" x2="190.27" y2="277.9" stroke="#222" stroke-width="0.7" />
<line x1="190.74" y1="269.1" x2="190.74" y2="277.9" stroke="#222" stroke-width="0.7" />
<line x1="190.76" y1="269.1" x2="190.76" y2="277.9" stroke="#222" stroke-width="0.7" />
<line x1="190.82" y1="269.1" x2="190.82" y2="277.9" stroke="#222" stroke-width="0.7" />
<line x1="190.82" y1="269.1" x2="190.82" y2="277.9" stroke="#222" stroke-width="0.7" />
<line x1="191.64" y1="269.1" x2="191.64" y2="277.9" stroke="#222" stroke-width="0.7" />
<line x1="191.93" y1="269.1" x2="191.93" y2="277.9" stroke="#222" stroke-width="0.7" />
<line x1="192.21" y1="269.1" x2="192.21" y2="277.9" stroke="#222" stroke-width="0.7" />
<line x1="192.21" y1="269.1" x2="192.21" y2="277.9" stroke="#222" stroke-width="0.7" />
<line x1="192.86" y1="269.1" x2="192.86" y2="277.9" stroke="#222" stroke-width="0.7" />
<line x1="193.05" y1="269.1" x2="193.05" y2="277.9" stroke="#222" stroke-width="0.7" />
<line x1="193.66" y1="269.1" x2="193.66" y2="277.9" stroke="#222" stroke-width="0.7" />
<line x1="193.75" y1="269.1" x2="193.75" y2="277.9" stroke="#222" stroke-width="0.7" />
<line x1="195.26" y1="269.1" x2="195.26" y2="277.9" stroke="#222" stroke-width="0.7" />
<line x1="195.34" y1="269.1" x2="195.34" y2="277.9" stroke="#222" stroke-width="0.7" />
<line x1="195.91" y1="269.1" x2="195.91" y2="277.9" stroke="#222" stroke-width="0.7" />
<line x1="196.56" y1="269.1" x2="196.56" y2="277.9" stroke="#222" stroke-width="0.7" />
<line x1="197.11" y1="269.1" x2="197.11" y2="277.9" stroke="#222" stroke-width="0.7" />
<line x1="199.3" y1="269.1" x2="199.3" y2="277.9" stroke="#222" stroke-width="0.7" />
<line x1="201.02" y1="269.1" x2="201.02" y2="277.9" stroke="#222" stroke-width="0.7" />
<line x1="201.32" y1="269.1" x2="201.32" y2="277.9" stroke="#222" stroke-width="0.7" />
<line x1="201.37" y1="269.1" x2="201.37" y2="277.9" stroke="#222" stroke-width="0.7" />
<line x1="203.53" y1="269.1" x2="203.53" y2="277.9" stroke="#222" stroke-width="0.7" />
<line x1="204.17" y1="269.1" x2="204.17" y2="277.9" stroke="#222" stroke-width="0.7" />
<line x1="204.53" y1="269.1" x2="204.53" y2="277.9" stroke="#222" stroke-width="0.7" />
<line x1="204.67" y1="269.1" x2="204.67" y2="277.9" stroke="#222" stroke-width="0.7" />
<line x1="205.13" y1="269.1" x2="205.13" y2="277.9" stroke="#222" stroke-width="0.7" />
<line x1="205.28" y1="269.1" x2="205.28" y2="277.9" stroke="#222" stroke-width="0.7" />
<line x1="206.36" y1="269.1" x2="206.36" y2="277.9" stroke="#222" stroke-width="0.7" />
<line x1="206.53" y1="269.1" x2="206.53" y2="277.9" stroke="#222" stroke-width="0.7" />
<line x1="207.28" y1="269.1" x2="207.28" y2="277.9" stroke="#222" stroke-width="0.7" />
<line x1="207.9" y1="269.1" x2="207.9" y2="277.9" stroke="#222" stroke-width="0.7" />
<line x1="209.07" y1="269.1" x2="209.07" y2="277.9" stroke="#222" stroke-width="0.7" />
<line x1="209.22" y1="269.1" x2="209.22" y2="277.9" stroke="#222" stroke-width="0.7" />
<line x1="209.39" y1="269.1" x2="209.39" y2="277.9" stroke="#222" stroke-width="0.7" />
<line x1="209.62" y1="269.1" x2="209.62" y2="277.9" stroke="#222" stroke-width="0.7" />
<line x1="209.84" y1="269.1" x2="209.84" y2="277.9" stroke="#222" stroke-width="0.7" />
<line x1="212.64" y1="269.1" x2="212.64" y2="277.9" stroke="#222" stroke-width="0.7" />
<line x1="213.2" y1="269.1" x2="213.2" y2="277.9" stroke="#222" stroke-width="0.7" />
<line x1="213.55" y1="269.1" x2="213.55" y2="277.9" stroke="#222" stroke-width="0.7" />
<line x1="214.11" y1="269.1" x2="214.11" y2="277.9" stroke="#222" stroke-width="0.7" />
<line x1="214.19" y1="269.1" x2="214.19" y2="277.9" stroke="#222" stroke-width="0.7" />
<line x1="215.72" y1="269.1" x2="215.72" y2="277.9" stroke="#222" stroke-width="0.7" />
<line x1="217.83" y1="269.1" x2="217.83" y2="277.9" stroke="#222" stroke-width="0.7" />
<line x1="218.7" y1="269.1" x2="218.7" y2="277.9" stroke="#222" stroke-width="0.7" />
<line x1="218.97" y1="269.1" x2="218.97" y2="277.9" stroke="#222" stroke-width="0.7" />
<line x1="219.81" y1="269.1" x2="219.81" y2="277.9" stroke="#222" stroke-width="0.7" />
<line x1="223.89" y1="269.1" x2="223.89" y2="277.9" stroke="#222" stroke-width="0.7" />
<line x1="224.1" y1="269.1" x2="224.1" y2="277.9" stroke="#222" stroke-width="0.7" />
<line x1="224.14" y1="269.1" x2="224.14" y2="277.9" stroke="#222" stroke-width="0.7" />
<line x1="224.45" y1="269.1" x2="224.45" y2="277.9" stroke="#222" stroke-width="0.7" />
<line x1="227.29" y1="269.1" x2="227.29" y2="277.9" stroke="#222" stroke-width="0.7" />
<line x1="227.74" y1="269.1" x2="227.74" y2="277.9" stroke="#222" stroke-width="0.7" />
<line x1="228.27" y1="269.1" x2="228.27" y2="277.9" stroke="#222" stroke-width="0.7" />
<line x1="228.45" y1="269.1" x2="228.45" y2="277.9" stroke="#222" stroke-width="0.7" />
<line x1="230.47" y1="269.1" x2="230.47" y2="277.9" stroke="#222" stroke-width="0.7" />
<line x1="230.75" y1="269.1" x2="230.75" y2="277.9" stroke="#222" stroke-width="0.7" />
<line x1="232.11" y1="269.1" x2="232.11" y2="277.9" stroke="#222" stroke-width="0.7" />
<line x1="232.9" y1="269.1" x2="232.9" y2="277.9" stroke="#222" stroke-width="0.7" />
<line x1="234.09" y1="269.1" x2="234.09" y2="277.9" stroke="#222" stroke-width="0.7" />
<line x1="234.39" y1="269.1" x2="234.39" y2="277.9" stroke="#222" stroke-width="0.7" />
<line x1="236.5" y1="269.1" x2="236.5" y2="277.9" stroke="#222" stroke-width="0.7" />
<line x1="237.28" y1="269.1" x2="237.28" y2="277.9" stroke="#222" stroke-width="0.7" />
<line x1="237.74" y1="269.1" x2="237.74" y2="277.9" stroke="#222" stroke-width="0.7" />
<line x1="237.88" y1="269.1" x2="237.88" y2="277.9" stroke="#222" stroke-width="0.7" />
<line x1="238.14" y1="269.1" x2="238.14" y2="277.9" stroke="#222" stroke-width="0.7" />
<line x1="240.35" y1="269.1" x2="240.35" y2="277.9" stroke="#222" stroke-width="0.7" />
<line x1="241.14" y1="269.1" x2="241.14" y2="277.9" stroke="#222" stroke-width="0.7" />
<line x1="241.26" y1="269.1" x2="241.26" y2="277.9" stroke="#222" stroke-width="0.7" />
<line x1="242.01" y1="269.1" x2="242.01" y2="277.9" stroke="#222" stroke-width="0.7" />
<line x1="243.03" y1="269.1" x2="243.03" y2="277.9" stroke="#222" stroke-width="0.7" />
<line x1="247.1" y1="269.1" x2="247.1" y2="277.9" stroke="#222" stroke-width="0.7" />
<line x1="247.33" y1="269.1" x2="247.33" y2="277.9" stroke="#222" stroke-width="0.7" />
<line x1="248.56" y1="269.1" x2="248.56" y2="277.9" stroke="#222" stroke-width="0.7" />
<line x1="248.8" y1="269.1" x2="248.8" y2="277.9" stroke="#222" stroke-width="0.7" />
<line x1="249.85" y1="269.1" x2="249.85" y2="277.9" stroke="#222" stroke-width="0.7" />
<line x1="252.12" y1="269.1" x2="252.12" y2="277.9" stroke="#222" stroke-width="0.7" />
<line x1="252.43" y1="269.1" x2="252.43" y2="277.9" stroke="#222" stroke-width="0.7" />
<line x1="253.25" y1="269.1" x2="253.25" y2="277.9" stroke="#222" stroke-width="0.7" />
<line x1="253.45" y1="269.1" x2="253.45" y2="277.9" stroke="#222" stroke-width="0.7" />
<line x1="253.91" y1="269.1" x2="253.91" y2="277.9" stroke="#222" stroke-width="0.7" />
<line x1="254.62" y1="269.1" x2="254.62" y2="277.9" stroke="#222" stroke-width="0.7" />
<line x1="255.16" y1="269.1" x2="255.16" y2="277.9" stroke="#222" stroke-width="0.7" />
<line x1="256.06" y1="269.1" x2="256.06" y2="277.9" stroke="#222" stroke-width="0.7" />
<line x1="258.51" y1="269.1" x2="258.51" y2="277.9" stroke="#222" stroke-width="0.7" />
<line x1="261.08" y1="269.1" x2="261.08" y2="277.9" stroke="#222" stroke-width="0.7" />
<line x1="262.09" y1="269.1" x2="262.09" y2="277.9" stroke="#222" stroke-width="0.7" />
<line x1="263.39" y1="269.1" x2="263.39" y2="277.9" stroke="#222" stroke-width="0.7" />
<line x1="264.42" y1="269.1" x2="264.42" y2="277.9" stroke="#222" stroke-width="0.7" />
<line x1="264.81" y1="269.1" x2="264.81" y2="277.9" stroke="#222" stroke-width="0.7" />
<line x1="266.51" y1="269.1" x2="266.51" y2="277.9" stroke="#222" stroke-width="0.7" />
<line x1="266.54" y1="269.1" x2="266.54" y2="277.9" stroke="#222" stroke-width="0.7" />
<line x1="266.7" y1="269.1" x2="266.7" y2="277.9" stroke="#222" stroke-width="0.7" />
<line x1="267.91" y1="269.1" x2="267.91" y2="277.9" stroke="#222" stroke-width="0.7" />
<line x1="269.97" y1="269.1" x2="269.97" y2="277.9" stroke="#222" stroke-width="0.7" />
<line x1="271.85" y1="269.1" x2="271.85" y2="277.9" stroke="#222" stroke-width="0.7" />
<line x1="273.02" y1="269.1" x2="273.02" y2="277.9" stroke="#222" stroke-width="0.7" />
<line x1="273.62" y1="269.1" x2="273.62" y2="277.9" stroke="#222" stroke-width="0.7" />
<line x1="274.25" y1="269.1" x2="274.25" y2="277.9" stroke="#222" stroke-width="0.7" />
<line x1="274.36" y1="269.1" x2="274.36" y2="277.9" stroke="#222" stroke-width="0.7" />
<line x1="274.7" y1="269.1" x2="274.7" y2="277.9" stroke="#222" stroke-width="0.7" />
<line x1="276.77" y1="269.1" x2="276.77" y2="277.9" stroke="#222" stroke-width="0.7" />
<line x1="277.37" y1="269.1" x2="277.37" y2="277.9" stroke="#222" stroke-width="0.7" />
<line x1="277.79" y1="269.1" x2="277.79" y2="277.9" stroke="#222" stroke-width="0.7" />
<line x1="280.81" y1="269.1" x2="280.81" y2="277.9" stroke="#222" stroke-width="0.7" />
<line x1="280.91" y1="269.1" x2="280.91" y2="277.9" stroke="#222" stroke-width="0.7" />
<line x1="286.37" y1="269.1" x2="286.37" y2="277.9" stroke="#222" stroke-width="0.7" />
<line x1="286.98" y1="269.1" x2="286.98" y2="277.9" stroke="#222" stroke-width="0.7" />
<line x1="287.68" y1="269.1" x2="287.68" y2="277.9" stroke="#222" stroke-width="0.7" />
<line x1="290.28" y1="269.1" x2="290.28" y2="277.9" stroke="#222" stroke-width="0.7" />
<line x1="290.81" y1="269.1" x2="290.81" y2="277.9" stroke="#222" stroke-width="0.7" />
<line x1="291.01" y1="269.1" x2="291.01" y2="277.9" stroke="#222" stroke-width="0.7" />
<line x1="291.54" y1="269.1" x2="291.54" y2="277.9" stroke="#222" stroke-width="0.7" />
<line x1="291.86" y1="269.1" x2="291.86" y2="277.9" stroke="#222" stroke-width="0.7" />
<line x1="292.15" y1="269.1" x2="292.15" y2="277.9" stroke="#222" stroke-width="0.7" />
<line x1="293.07" y1="269.1" x2="293.07" y2="277.9" stroke="#222" stroke-width="0.7" />
<line x1="293.44" y1="269.1" x2="293.44" y2="277.9" stroke="#222" stroke-width="0.7" />
<line x1="294.11" y1="269.1" x2="294.11" y2="277.9" stroke="#222" stroke-width="0.7" />
<line x1="294.12" y1="269.1" x2="294.12" y2="277.9" stroke="#222" stroke-width="0.7" />
<line x1="295.19" y1="269.1" x2="295.19" y2="277.9" stroke="#222" stroke-width="0.7" />
<line x1="295.24" y1="269.1" x2="295.24" y2="277.9" stroke="#222" stroke-width="0.7" />
<line x1="296.66" y1="269.1" x2="296.66" y2="277.9" stroke="#222" stroke-width="0.7" />
<line x1="296.81" y1="269.1" x2="296.81" y2="277.9" stroke="#222" stroke-width="0.7" />
<line x1="296.98" y1="269.1" x2="296.98" y2="277.9" stroke="#222" stroke-width="0.7" />
<line x1="297.39" y1="269.1" x2="297.39" y2="277.9" stroke="#222" stroke-width="0.7" />
<line x1="297.41" y1="269.1" x2="297.41" y2="277.9" stroke="#222" stroke-width="0.7" />
<line x1="297.69" y1="269.1" x2="297.69" y2="277.9" stroke="#222" stroke-width="0.7" />
<line x1="299.27" y1="269.1" x2="299.27" y2="277.9" stroke="#222" stroke-width="0.7" />
<line x1="301.3" y1="269.1" x2="301.3" y2="277.9" stroke="#222" stroke-width="0.7" />
<line x1="302.25" y1="269.1" x2="302.25" y2="277.9" stroke="#222" stroke-width="0.7" />
<line x1="302.97" y1="269.1" x2="302.97" y2="277.9" stroke="#222" stroke-width="0.7" />
<line x1="303" y1="269.1" x2="303" y2="277.9" stroke="#222" stroke-width="0.7" />
<polyline points="170.6,273.5 171.2,267.9 172.9,266.2 173.8,260.2 174.6,251.6 175.5,244.7 176.3,241.2 177.7,233.4 178.9,228.3 180,226.6 181.4,225.2 182.9,221.8 184.3,217.5 186.3,214.6 188.7,213.2 190.6,211.3 192,210.8 193.5,211.7 194.9,210.3 196.8,209.8 198.8,209.3 200.2,208.8 201.6,209.3 203.1,208.8 205,209.8 206.9,211.7 208.4,211.9 209.3,211.3 211.7,213.2 215.6,216.5 219.4,219.9 223.3,224.2 230,231 236.2,238.5 242.3,245.9 248.5,252.7 252.2,255.8 255.9,258.9 259.6,262 261.4,262.6 262.3,261.3 265.7,263.8 270.6,266.9 275.6,270.6 279.3,272.4 285.3,272.6 292.1,273.2 300.5,273 304.3,273.5" fill="none" stroke="#000" stroke-width="1.1" stroke-linejoin="round" />
<text x="237" y="223" font-size="5.6" fill="#2a2a2a" text-anchor="start" textLength="62.0" lengthAdjust="spacingAndGlyphs" stroke="#2a2a2a" stroke-width="0.1" style="">NES = 2.05; pval &lt; 0.0001</text>
<line x1="161.5" y1="209.5" x2="164.2" y2="209.5" stroke="#333333" stroke-width="0.9" />
<text x="157.8" y="211.4" font-size="6.2" fill="#3a3a3a" text-anchor="end" stroke="#3a3a3a" stroke-width="0.15" style="">0.4</text>
<line x1="161.5" y1="225.5" x2="164.2" y2="225.5" stroke="#333333" stroke-width="0.9" />
<text x="157.8" y="227.4" font-size="6.2" fill="#3a3a3a" text-anchor="end" stroke="#3a3a3a" stroke-width="0.15" style="">0.3</text>
<line x1="161.5" y1="241.5" x2="164.2" y2="241.5" stroke="#333333" stroke-width="0.9" />
<text x="157.8" y="243.4" font-size="6.2" fill="#3a3a3a" text-anchor="end" stroke="#3a3a3a" stroke-width="0.15" style="">0.2</text>
<line x1="161.5" y1="257.5" x2="164.2" y2="257.5" stroke="#333333" stroke-width="0.9" />
<text x="157.8" y="259.4" font-size="6.2" fill="#3a3a3a" text-anchor="end" stroke="#3a3a3a" stroke-width="0.15" style="">0.1</text>
<line x1="161.5" y1="273.5" x2="164.2" y2="273.5" stroke="#333333" stroke-width="0.9" />
<text x="157.8" y="275.4" font-size="6.2" fill="#3a3a3a" text-anchor="end" stroke="#3a3a3a" stroke-width="0.15" style="">0.0</text>
<line x1="170.5" y1="281" x2="170.5" y2="283.8" stroke="#333333" stroke-width="0.9" />
<line x1="217.8" y1="281" x2="217.8" y2="283.8" stroke="#333333" stroke-width="0.9" />
<line x1="265.1" y1="281" x2="265.1" y2="283.8" stroke="#333333" stroke-width="0.9" />
<rect x="164.2" y="205.4" width="147.3" height="75.6" fill="none" stroke="#333333" stroke-width="1.1" />
<rect x="339.8" y="206.6" width="148.4" height="75.7" fill="#fff" stroke="none"/>
<line x1="340.3" y1="210.3" x2="487.7" y2="210.3" stroke="#444" stroke-width="1.2" stroke-dasharray="3.0 3.5" stroke-dashoffset="0"/>
<line x1="340.3" y1="276.9" x2="487.7" y2="276.9" stroke="#444" stroke-width="1.2" stroke-dasharray="3.0 3.5" stroke-dashoffset="0"/>
<line x1="339.8" y1="275.3" x2="488.2" y2="275.3" stroke="#222" stroke-width="1.0" />
<line x1="347.81" y1="270.9" x2="347.81" y2="279.7" stroke="#222" stroke-width="0.7" />
<line x1="347.89" y1="270.9" x2="347.89" y2="279.7" stroke="#222" stroke-width="0.7" />
<line x1="348.29" y1="270.9" x2="348.29" y2="279.7" stroke="#222" stroke-width="0.7" />
<line x1="348.45" y1="270.9" x2="348.45" y2="279.7" stroke="#222" stroke-width="0.7" />
<line x1="349.14" y1="270.9" x2="349.14" y2="279.7" stroke="#222" stroke-width="0.7" />
<line x1="349.17" y1="270.9" x2="349.17" y2="279.7" stroke="#222" stroke-width="0.7" />
<line x1="349.34" y1="270.9" x2="349.34" y2="279.7" stroke="#222" stroke-width="0.7" />
<line x1="350.47" y1="270.9" x2="350.47" y2="279.7" stroke="#222" stroke-width="0.7" />
<line x1="351.1" y1="270.9" x2="351.1" y2="279.7" stroke="#222" stroke-width="0.7" />
<line x1="351.49" y1="270.9" x2="351.49" y2="279.7" stroke="#222" stroke-width="0.7" />
<line x1="351.79" y1="270.9" x2="351.79" y2="279.7" stroke="#222" stroke-width="0.7" />
<line x1="352.14" y1="270.9" x2="352.14" y2="279.7" stroke="#222" stroke-width="0.7" />
<line x1="352.49" y1="270.9" x2="352.49" y2="279.7" stroke="#222" stroke-width="0.7" />
<line x1="353.34" y1="270.9" x2="353.34" y2="279.7" stroke="#222" stroke-width="0.7" />
<line x1="353.77" y1="270.9" x2="353.77" y2="279.7" stroke="#222" stroke-width="0.7" />
<line x1="354.34" y1="270.9" x2="354.34" y2="279.7" stroke="#222" stroke-width="0.7" />
<line x1="354.38" y1="270.9" x2="354.38" y2="279.7" stroke="#222" stroke-width="0.7" />
<line x1="354.43" y1="270.9" x2="354.43" y2="279.7" stroke="#222" stroke-width="0.7" />
<line x1="354.64" y1="270.9" x2="354.64" y2="279.7" stroke="#222" stroke-width="0.7" />
<line x1="354.67" y1="270.9" x2="354.67" y2="279.7" stroke="#222" stroke-width="0.7" />
<line x1="355.88" y1="270.9" x2="355.88" y2="279.7" stroke="#222" stroke-width="0.7" />
<line x1="355.97" y1="270.9" x2="355.97" y2="279.7" stroke="#222" stroke-width="0.7" />
<line x1="356.21" y1="270.9" x2="356.21" y2="279.7" stroke="#222" stroke-width="0.7" />
<line x1="356.85" y1="270.9" x2="356.85" y2="279.7" stroke="#222" stroke-width="0.7" />
<line x1="359.57" y1="270.9" x2="359.57" y2="279.7" stroke="#222" stroke-width="0.7" />
<line x1="359.64" y1="270.9" x2="359.64" y2="279.7" stroke="#222" stroke-width="0.7" />
<line x1="359.86" y1="270.9" x2="359.86" y2="279.7" stroke="#222" stroke-width="0.7" />
<line x1="360.01" y1="270.9" x2="360.01" y2="279.7" stroke="#222" stroke-width="0.7" />
<line x1="360.17" y1="270.9" x2="360.17" y2="279.7" stroke="#222" stroke-width="0.7" />
<line x1="360.38" y1="270.9" x2="360.38" y2="279.7" stroke="#222" stroke-width="0.7" />
<line x1="361.45" y1="270.9" x2="361.45" y2="279.7" stroke="#222" stroke-width="0.7" />
<line x1="362.25" y1="270.9" x2="362.25" y2="279.7" stroke="#222" stroke-width="0.7" />
<line x1="362.86" y1="270.9" x2="362.86" y2="279.7" stroke="#222" stroke-width="0.7" />
<line x1="363.67" y1="270.9" x2="363.67" y2="279.7" stroke="#222" stroke-width="0.7" />
<line x1="364.22" y1="270.9" x2="364.22" y2="279.7" stroke="#222" stroke-width="0.7" />
<line x1="365.79" y1="270.9" x2="365.79" y2="279.7" stroke="#222" stroke-width="0.7" />
<line x1="366.02" y1="270.9" x2="366.02" y2="279.7" stroke="#222" stroke-width="0.7" />
<line x1="366.31" y1="270.9" x2="366.31" y2="279.7" stroke="#222" stroke-width="0.7" />
<line x1="369.48" y1="270.9" x2="369.48" y2="279.7" stroke="#222" stroke-width="0.7" />
<line x1="370.29" y1="270.9" x2="370.29" y2="279.7" stroke="#222" stroke-width="0.7" />
<line x1="371.53" y1="270.9" x2="371.53" y2="279.7" stroke="#222" stroke-width="0.7" />
<line x1="371.62" y1="270.9" x2="371.62" y2="279.7" stroke="#222" stroke-width="0.7" />
<line x1="371.73" y1="270.9" x2="371.73" y2="279.7" stroke="#222" stroke-width="0.7" />
<line x1="372.07" y1="270.9" x2="372.07" y2="279.7" stroke="#222" stroke-width="0.7" />
<line x1="372.76" y1="270.9" x2="372.76" y2="279.7" stroke="#222" stroke-width="0.7" />
<line x1="373.51" y1="270.9" x2="373.51" y2="279.7" stroke="#222" stroke-width="0.7" />
<line x1="374.03" y1="270.9" x2="374.03" y2="279.7" stroke="#222" stroke-width="0.7" />
<line x1="374.91" y1="270.9" x2="374.91" y2="279.7" stroke="#222" stroke-width="0.7" />
<line x1="378.49" y1="270.9" x2="378.49" y2="279.7" stroke="#222" stroke-width="0.7" />
<line x1="379.53" y1="270.9" x2="379.53" y2="279.7" stroke="#222" stroke-width="0.7" />
<line x1="379.56" y1="270.9" x2="379.56" y2="279.7" stroke="#222" stroke-width="0.7" />
<line x1="380.85" y1="270.9" x2="380.85" y2="279.7" stroke="#222" stroke-width="0.7" />
<line x1="380.9" y1="270.9" x2="380.9" y2="279.7" stroke="#222" stroke-width="0.7" />
<line x1="380.97" y1="270.9" x2="380.97" y2="279.7" stroke="#222" stroke-width="0.7" />
<line x1="382.2" y1="270.9" x2="382.2" y2="279.7" stroke="#222" stroke-width="0.7" />
<line x1="385.32" y1="270.9" x2="385.32" y2="279.7" stroke="#222" stroke-width="0.7" />
<line x1="386.21" y1="270.9" x2="386.21" y2="279.7" stroke="#222" stroke-width="0.7" />
<line x1="386.76" y1="270.9" x2="386.76" y2="279.7" stroke="#222" stroke-width="0.7" />
<line x1="387.35" y1="270.9" x2="387.35" y2="279.7" stroke="#222" stroke-width="0.7" />
<line x1="387.4" y1="270.9" x2="387.4" y2="279.7" stroke="#222" stroke-width="0.7" />
<line x1="388.68" y1="270.9" x2="388.68" y2="279.7" stroke="#222" stroke-width="0.7" />
<line x1="388.74" y1="270.9" x2="388.74" y2="279.7" stroke="#222" stroke-width="0.7" />
<line x1="392.84" y1="270.9" x2="392.84" y2="279.7" stroke="#222" stroke-width="0.7" />
<line x1="393.36" y1="270.9" x2="393.36" y2="279.7" stroke="#222" stroke-width="0.7" />
<line x1="394.07" y1="270.9" x2="394.07" y2="279.7" stroke="#222" stroke-width="0.7" />
<line x1="394.24" y1="270.9" x2="394.24" y2="279.7" stroke="#222" stroke-width="0.7" />
<line x1="394.25" y1="270.9" x2="394.25" y2="279.7" stroke="#222" stroke-width="0.7" />
<line x1="394.63" y1="270.9" x2="394.63" y2="279.7" stroke="#222" stroke-width="0.7" />
<line x1="395.72" y1="270.9" x2="395.72" y2="279.7" stroke="#222" stroke-width="0.7" />
<line x1="399.76" y1="270.9" x2="399.76" y2="279.7" stroke="#222" stroke-width="0.7" />
<line x1="400.38" y1="270.9" x2="400.38" y2="279.7" stroke="#222" stroke-width="0.7" />
<line x1="400.82" y1="270.9" x2="400.82" y2="279.7" stroke="#222" stroke-width="0.7" />
<line x1="401.11" y1="270.9" x2="401.11" y2="279.7" stroke="#222" stroke-width="0.7" />
<line x1="402.02" y1="270.9" x2="402.02" y2="279.7" stroke="#222" stroke-width="0.7" />
<line x1="402.4" y1="270.9" x2="402.4" y2="279.7" stroke="#222" stroke-width="0.7" />
<line x1="402.66" y1="270.9" x2="402.66" y2="279.7" stroke="#222" stroke-width="0.7" />
<line x1="409.96" y1="270.9" x2="409.96" y2="279.7" stroke="#222" stroke-width="0.7" />
<line x1="410.72" y1="270.9" x2="410.72" y2="279.7" stroke="#222" stroke-width="0.7" />
<line x1="411.08" y1="270.9" x2="411.08" y2="279.7" stroke="#222" stroke-width="0.7" />
<line x1="411.95" y1="270.9" x2="411.95" y2="279.7" stroke="#222" stroke-width="0.7" />
<line x1="412.03" y1="270.9" x2="412.03" y2="279.7" stroke="#222" stroke-width="0.7" />
<line x1="412.06" y1="270.9" x2="412.06" y2="279.7" stroke="#222" stroke-width="0.7" />
<line x1="414.4" y1="270.9" x2="414.4" y2="279.7" stroke="#222" stroke-width="0.7" />
<line x1="416.96" y1="270.9" x2="416.96" y2="279.7" stroke="#222" stroke-width="0.7" />
<line x1="418.34" y1="270.9" x2="418.34" y2="279.7" stroke="#222" stroke-width="0.7" />
<line x1="418.53" y1="270.9" x2="418.53" y2="279.7" stroke="#222" stroke-width="0.7" />
<line x1="418.98" y1="270.9" x2="418.98" y2="279.7" stroke="#222" stroke-width="0.7" />
<line x1="419.21" y1="270.9" x2="419.21" y2="279.7" stroke="#222" stroke-width="0.7" />
<line x1="419.84" y1="270.9" x2="419.84" y2="279.7" stroke="#222" stroke-width="0.7" />
<line x1="420.03" y1="270.9" x2="420.03" y2="279.7" stroke="#222" stroke-width="0.7" />
<line x1="423.34" y1="270.9" x2="423.34" y2="279.7" stroke="#222" stroke-width="0.7" />
<line x1="423.53" y1="270.9" x2="423.53" y2="279.7" stroke="#222" stroke-width="0.7" />
<line x1="424.74" y1="270.9" x2="424.74" y2="279.7" stroke="#222" stroke-width="0.7" />
<line x1="424.85" y1="270.9" x2="424.85" y2="279.7" stroke="#222" stroke-width="0.7" />
<line x1="425.12" y1="270.9" x2="425.12" y2="279.7" stroke="#222" stroke-width="0.7" />
<line x1="427.1" y1="270.9" x2="427.1" y2="279.7" stroke="#222" stroke-width="0.7" />
<line x1="427.27" y1="270.9" x2="427.27" y2="279.7" stroke="#222" stroke-width="0.7" />
<line x1="427.46" y1="270.9" x2="427.46" y2="279.7" stroke="#222" stroke-width="0.7" />
<line x1="429.64" y1="270.9" x2="429.64" y2="279.7" stroke="#222" stroke-width="0.7" />
<line x1="430.02" y1="270.9" x2="430.02" y2="279.7" stroke="#222" stroke-width="0.7" />
<line x1="430.71" y1="270.9" x2="430.71" y2="279.7" stroke="#222" stroke-width="0.7" />
<line x1="432.49" y1="270.9" x2="432.49" y2="279.7" stroke="#222" stroke-width="0.7" />
<line x1="432.79" y1="270.9" x2="432.79" y2="279.7" stroke="#222" stroke-width="0.7" />
<line x1="433.06" y1="270.9" x2="433.06" y2="279.7" stroke="#222" stroke-width="0.7" />
<line x1="434.12" y1="270.9" x2="434.12" y2="279.7" stroke="#222" stroke-width="0.7" />
<line x1="434.21" y1="270.9" x2="434.21" y2="279.7" stroke="#222" stroke-width="0.7" />
<line x1="434.35" y1="270.9" x2="434.35" y2="279.7" stroke="#222" stroke-width="0.7" />
<line x1="436.06" y1="270.9" x2="436.06" y2="279.7" stroke="#222" stroke-width="0.7" />
<line x1="436.57" y1="270.9" x2="436.57" y2="279.7" stroke="#222" stroke-width="0.7" />
<line x1="438.31" y1="270.9" x2="438.31" y2="279.7" stroke="#222" stroke-width="0.7" />
<line x1="438.48" y1="270.9" x2="438.48" y2="279.7" stroke="#222" stroke-width="0.7" />
<line x1="442.34" y1="270.9" x2="442.34" y2="279.7" stroke="#222" stroke-width="0.7" />
<line x1="443.01" y1="270.9" x2="443.01" y2="279.7" stroke="#222" stroke-width="0.7" />
<line x1="443.09" y1="270.9" x2="443.09" y2="279.7" stroke="#222" stroke-width="0.7" />
<line x1="444.39" y1="270.9" x2="444.39" y2="279.7" stroke="#222" stroke-width="0.7" />
<line x1="446.46" y1="270.9" x2="446.46" y2="279.7" stroke="#222" stroke-width="0.7" />
<line x1="446.59" y1="270.9" x2="446.59" y2="279.7" stroke="#222" stroke-width="0.7" />
<line x1="446.87" y1="270.9" x2="446.87" y2="279.7" stroke="#222" stroke-width="0.7" />
<line x1="446.89" y1="270.9" x2="446.89" y2="279.7" stroke="#222" stroke-width="0.7" />
<line x1="450.94" y1="270.9" x2="450.94" y2="279.7" stroke="#222" stroke-width="0.7" />
<line x1="451.12" y1="270.9" x2="451.12" y2="279.7" stroke="#222" stroke-width="0.7" />
<line x1="451.25" y1="270.9" x2="451.25" y2="279.7" stroke="#222" stroke-width="0.7" />
<line x1="453.01" y1="270.9" x2="453.01" y2="279.7" stroke="#222" stroke-width="0.7" />
<line x1="453.06" y1="270.9" x2="453.06" y2="279.7" stroke="#222" stroke-width="0.7" />
<line x1="453.1" y1="270.9" x2="453.1" y2="279.7" stroke="#222" stroke-width="0.7" />
<line x1="457.78" y1="270.9" x2="457.78" y2="279.7" stroke="#222" stroke-width="0.7" />
<line x1="458.26" y1="270.9" x2="458.26" y2="279.7" stroke="#222" stroke-width="0.7" />
<line x1="459.05" y1="270.9" x2="459.05" y2="279.7" stroke="#222" stroke-width="0.7" />
<line x1="460.25" y1="270.9" x2="460.25" y2="279.7" stroke="#222" stroke-width="0.7" />
<line x1="461.1" y1="270.9" x2="461.1" y2="279.7" stroke="#222" stroke-width="0.7" />
<line x1="465.76" y1="270.9" x2="465.76" y2="279.7" stroke="#222" stroke-width="0.7" />
<line x1="466.12" y1="270.9" x2="466.12" y2="279.7" stroke="#222" stroke-width="0.7" />
<line x1="467.34" y1="270.9" x2="467.34" y2="279.7" stroke="#222" stroke-width="0.7" />
<line x1="470.25" y1="270.9" x2="470.25" y2="279.7" stroke="#222" stroke-width="0.7" />
<line x1="470.84" y1="270.9" x2="470.84" y2="279.7" stroke="#222" stroke-width="0.7" />
<line x1="476.44" y1="270.9" x2="476.44" y2="279.7" stroke="#222" stroke-width="0.7" />
<line x1="477.19" y1="270.9" x2="477.19" y2="279.7" stroke="#222" stroke-width="0.7" />
<line x1="477.95" y1="270.9" x2="477.95" y2="279.7" stroke="#222" stroke-width="0.7" />
<line x1="478.56" y1="270.9" x2="478.56" y2="279.7" stroke="#222" stroke-width="0.7" />
<line x1="478.83" y1="270.9" x2="478.83" y2="279.7" stroke="#222" stroke-width="0.7" />
<polyline points="347.5,275.2 348.5,267.6 350,261.9 352.3,256.2 354.2,248.6 356.5,239.2 358,235.4 360.3,232.5 362.7,227.8 364.6,225.9 365.6,223 367.1,217.9 368.4,220.2 370.3,216.4 373.2,213 376,215.4 378.8,215.4 381.1,210.4 383.6,213 386.4,212.2 388.7,210.4 391.2,213 395.9,214.5 401.6,219.2 407.3,224.9 411,230 415,235.2 417.7,238.2 423.4,244.8 431,250.5 436.7,255.3 439.5,257.2 443.3,256.6 447.1,259.1 450.9,261.5 452.8,261.9 457.5,266.7 461.3,265.3 464.2,267.2 467,266.7 470.8,271.4 474.6,274.3 477.5,273.3 480.3,275.2" fill="none" stroke="#000" stroke-width="1.1" stroke-linejoin="round" />
<text x="416.7" y="224" font-size="5.6" fill="#2a2a2a" text-anchor="start" textLength="62.7" lengthAdjust="spacingAndGlyphs" stroke="#2a2a2a" stroke-width="0.1" style="">NES = 1.95 pval &lt; 0.0001</text>
<line x1="337.1" y1="208.9" x2="339.8" y2="208.9" stroke="#333333" stroke-width="0.9" />
<text x="333.4" y="210.8" font-size="6.2" fill="#3a3a3a" text-anchor="end" stroke="#3a3a3a" stroke-width="0.15" style="">0.4</text>
<line x1="337.1" y1="225.5" x2="339.8" y2="225.5" stroke="#333333" stroke-width="0.9" />
<text x="333.4" y="227.4" font-size="6.2" fill="#3a3a3a" text-anchor="end" stroke="#3a3a3a" stroke-width="0.15" style="">0.3</text>
<line x1="337.1" y1="242.1" x2="339.8" y2="242.1" stroke="#333333" stroke-width="0.9" />
<text x="333.4" y="244" font-size="6.2" fill="#3a3a3a" text-anchor="end" stroke="#3a3a3a" stroke-width="0.15" style="">0.2</text>
<line x1="337.1" y1="258.7" x2="339.8" y2="258.7" stroke="#333333" stroke-width="0.9" />
<text x="333.4" y="260.6" font-size="6.2" fill="#3a3a3a" text-anchor="end" stroke="#3a3a3a" stroke-width="0.15" style="">0.1</text>
<line x1="337.1" y1="275.3" x2="339.8" y2="275.3" stroke="#333333" stroke-width="0.9" />
<text x="333.4" y="277.2" font-size="6.2" fill="#3a3a3a" text-anchor="end" stroke="#3a3a3a" stroke-width="0.15" style="">0.0</text>
<line x1="346.7" y1="282.3" x2="346.7" y2="285.1" stroke="#333333" stroke-width="0.9" />
<line x1="396.2" y1="282.3" x2="396.2" y2="285.1" stroke="#333333" stroke-width="0.9" />
<line x1="445.9" y1="282.3" x2="445.9" y2="285.1" stroke="#333333" stroke-width="0.9" />
<rect x="339.8" y="206.6" width="148.4" height="75.7" fill="none" stroke="#333333" stroke-width="1.1" />
<rect x="164.2" y="293.4" width="147.3" height="76" fill="#fff" stroke="none"/>
<line x1="164.7" y1="297.5" x2="311" y2="297.5" stroke="#555" stroke-width="1.0" stroke-dasharray="6 5.35" stroke-dashoffset="3.5"/>
<line x1="164.7" y1="366.8" x2="311" y2="366.8" stroke="#555" stroke-width="1.0" stroke-dasharray="6 5.35" stroke-dashoffset="3.5"/>
<line x1="164.2" y1="329.4" x2="311.5" y2="329.4" stroke="#222" stroke-width="1.0" />
<line x1="171.4" y1="325" x2="171.4" y2="333.8" stroke="#222" stroke-width="0.7" />
<line x1="173.8" y1="325" x2="173.8" y2="333.8" stroke="#222" stroke-width="0.7" />
<line x1="174.8" y1="325" x2="174.8" y2="333.8" stroke="#222" stroke-width="0.7" />
<line x1="176" y1="325" x2="176" y2="333.8" stroke="#222" stroke-width="0.7" />
<line x1="180.5" y1="325" x2="180.5" y2="333.8" stroke="#222" stroke-width="0.7" />
<line x1="182.64" y1="325" x2="182.64" y2="333.8" stroke="#222" stroke-width="0.7" />
<line x1="182.91" y1="325" x2="182.91" y2="333.8" stroke="#222" stroke-width="0.7" />
<line x1="183.25" y1="325" x2="183.25" y2="333.8" stroke="#222" stroke-width="0.7" />
<line x1="183.26" y1="325" x2="183.26" y2="333.8" stroke="#222" stroke-width="0.7" />
<line x1="184.06" y1="325" x2="184.06" y2="333.8" stroke="#222" stroke-width="0.7" />
<line x1="184.65" y1="325" x2="184.65" y2="333.8" stroke="#222" stroke-width="0.7" />
<line x1="184.88" y1="325" x2="184.88" y2="333.8" stroke="#222" stroke-width="0.7" />
<line x1="185" y1="325" x2="185" y2="333.8" stroke="#222" stroke-width="0.7" />
<line x1="185.54" y1="325" x2="185.54" y2="333.8" stroke="#222" stroke-width="0.7" />
<line x1="185.59" y1="325" x2="185.59" y2="333.8" stroke="#222" stroke-width="0.7" />
<line x1="185.94" y1="325" x2="185.94" y2="333.8" stroke="#222" stroke-width="0.7" />
<line x1="186.33" y1="325" x2="186.33" y2="333.8" stroke="#222" stroke-width="0.7" />
<line x1="186.73" y1="325" x2="186.73" y2="333.8" stroke="#222" stroke-width="0.7" />
<line x1="187.78" y1="325" x2="187.78" y2="333.8" stroke="#222" stroke-width="0.7" />
<line x1="189.14" y1="325" x2="189.14" y2="333.8" stroke="#222" stroke-width="0.7" />
<line x1="189.14" y1="325" x2="189.14" y2="333.8" stroke="#222" stroke-width="0.7" />
<line x1="189.18" y1="325" x2="189.18" y2="333.8" stroke="#222" stroke-width="0.7" />
<line x1="190.33" y1="325" x2="190.33" y2="333.8" stroke="#222" stroke-width="0.7" />
<line x1="191.25" y1="325" x2="191.25" y2="333.8" stroke="#222" stroke-width="0.7" />
<line x1="191.93" y1="325" x2="191.93" y2="333.8" stroke="#222" stroke-width="0.7" />
<line x1="192.85" y1="325" x2="192.85" y2="333.8" stroke="#222" stroke-width="0.7" />
<line x1="194.43" y1="325" x2="194.43" y2="333.8" stroke="#222" stroke-width="0.7" />
<line x1="194.45" y1="325" x2="194.45" y2="333.8" stroke="#222" stroke-width="0.7" />
<line x1="195.47" y1="325" x2="195.47" y2="333.8" stroke="#222" stroke-width="0.7" />
<line x1="195.69" y1="325" x2="195.69" y2="333.8" stroke="#222" stroke-width="0.7" />
<line x1="195.9" y1="325" x2="195.9" y2="333.8" stroke="#222" stroke-width="0.7" />
<line x1="196.71" y1="325" x2="196.71" y2="333.8" stroke="#222" stroke-width="0.7" />
<line x1="196.97" y1="325" x2="196.97" y2="333.8" stroke="#222" stroke-width="0.7" />
<line x1="197.04" y1="325" x2="197.04" y2="333.8" stroke="#222" stroke-width="0.7" />
<line x1="197.25" y1="325" x2="197.25" y2="333.8" stroke="#222" stroke-width="0.7" />
<line x1="197.39" y1="325" x2="197.39" y2="333.8" stroke="#222" stroke-width="0.7" />
<line x1="197.62" y1="325" x2="197.62" y2="333.8" stroke="#222" stroke-width="0.7" />
<line x1="197.87" y1="325" x2="197.87" y2="333.8" stroke="#222" stroke-width="0.7" />
<line x1="197.88" y1="325" x2="197.88" y2="333.8" stroke="#222" stroke-width="0.7" />
<line x1="198.32" y1="325" x2="198.32" y2="333.8" stroke="#222" stroke-width="0.7" />
<line x1="199.95" y1="325" x2="199.95" y2="333.8" stroke="#222" stroke-width="0.7" />
<line x1="204.75" y1="325" x2="204.75" y2="333.8" stroke="#222" stroke-width="0.7" />
<line x1="205.08" y1="325" x2="205.08" y2="333.8" stroke="#222" stroke-width="0.7" />
<line x1="205.28" y1="325" x2="205.28" y2="333.8" stroke="#222" stroke-width="0.7" />
<line x1="207.16" y1="325" x2="207.16" y2="333.8" stroke="#222" stroke-width="0.7" />
<line x1="207.78" y1="325" x2="207.78" y2="333.8" stroke="#222" stroke-width="0.7" />
<line x1="208.02" y1="325" x2="208.02" y2="333.8" stroke="#222" stroke-width="0.7" />
<line x1="208.98" y1="325" x2="208.98" y2="333.8" stroke="#222" stroke-width="0.7" />
<line x1="209.09" y1="325" x2="209.09" y2="333.8" stroke="#222" stroke-width="0.7" />
<line x1="209.54" y1="325" x2="209.54" y2="333.8" stroke="#222" stroke-width="0.7" />
<line x1="209.93" y1="325" x2="209.93" y2="333.8" stroke="#222" stroke-width="0.7" />
<line x1="211.39" y1="325" x2="211.39" y2="333.8" stroke="#222" stroke-width="0.7" />
<line x1="211.81" y1="325" x2="211.81" y2="333.8" stroke="#222" stroke-width="0.7" />
<line x1="212.02" y1="325" x2="212.02" y2="333.8" stroke="#222" stroke-width="0.7" />
<line x1="212.43" y1="325" x2="212.43" y2="333.8" stroke="#222" stroke-width="0.7" />
<line x1="212.88" y1="325" x2="212.88" y2="333.8" stroke="#222" stroke-width="0.7" />
<line x1="213.17" y1="325" x2="213.17" y2="333.8" stroke="#222" stroke-width="0.7" />
<line x1="213.17" y1="325" x2="213.17" y2="333.8" stroke="#222" stroke-width="0.7" />
<line x1="213.3" y1="325" x2="213.3" y2="333.8" stroke="#222" stroke-width="0.7" />
<line x1="214.1" y1="325" x2="214.1" y2="333.8" stroke="#222" stroke-width="0.7" />
<line x1="214.27" y1="325" x2="214.27" y2="333.8" stroke="#222" stroke-width="0.7" />
<line x1="214.31" y1="325" x2="214.31" y2="333.8" stroke="#222" stroke-width="0.7" />
<line x1="214.76" y1="325" x2="214.76" y2="333.8" stroke="#222" stroke-width="0.7" />
<line x1="214.99" y1="325" x2="214.99" y2="333.8" stroke="#222" stroke-width="0.7" />
<line x1="215.8" y1="325" x2="215.8" y2="333.8" stroke="#222" stroke-width="0.7" />
<line x1="216.12" y1="325" x2="216.12" y2="333.8" stroke="#222" stroke-width="0.7" />
<line x1="216.6" y1="325" x2="216.6" y2="333.8" stroke="#222" stroke-width="0.7" />
<line x1="218.12" y1="325" x2="218.12" y2="333.8" stroke="#222" stroke-width="0.7" />
<line x1="218.27" y1="325" x2="218.27" y2="333.8" stroke="#222" stroke-width="0.7" />
<line x1="219.97" y1="325" x2="219.97" y2="333.8" stroke="#222" stroke-width="0.7" />
<line x1="220.02" y1="325" x2="220.02" y2="333.8" stroke="#222" stroke-width="0.7" />
<line x1="220.2" y1="325" x2="220.2" y2="333.8" stroke="#222" stroke-width="0.7" />
<line x1="220.63" y1="325" x2="220.63" y2="333.8" stroke="#222" stroke-width="0.7" />
<line x1="222.35" y1="325" x2="222.35" y2="333.8" stroke="#222" stroke-width="0.7" />
<line x1="222.73" y1="325" x2="222.73" y2="333.8" stroke="#222" stroke-width="0.7" />
<line x1="224.99" y1="325" x2="224.99" y2="333.8" stroke="#222" stroke-width="0.7" />
<line x1="225.77" y1="325" x2="225.77" y2="333.8" stroke="#222" stroke-width="0.7" />
<line x1="226.63" y1="325" x2="226.63" y2="333.8" stroke="#222" stroke-width="0.7" />
<line x1="226.66" y1="325" x2="226.66" y2="333.8" stroke="#222" stroke-width="0.7" />
<line x1="226.98" y1="325" x2="226.98" y2="333.8" stroke="#222" stroke-width="0.7" />
<line x1="227.14" y1="325" x2="227.14" y2="333.8" stroke="#222" stroke-width="0.7" />
<line x1="227.28" y1="325" x2="227.28" y2="333.8" stroke="#222" stroke-width="0.7" />
<line x1="227.46" y1="325" x2="227.46" y2="333.8" stroke="#222" stroke-width="0.7" />
<line x1="228.31" y1="325" x2="228.31" y2="333.8" stroke="#222" stroke-width="0.7" />
<line x1="230.48" y1="325" x2="230.48" y2="333.8" stroke="#222" stroke-width="0.7" />
<line x1="231.01" y1="325" x2="231.01" y2="333.8" stroke="#222" stroke-width="0.7" />
<line x1="231.97" y1="325" x2="231.97" y2="333.8" stroke="#222" stroke-width="0.7" />
<line x1="232.49" y1="325" x2="232.49" y2="333.8" stroke="#222" stroke-width="0.7" />
<line x1="232.7" y1="325" x2="232.7" y2="333.8" stroke="#222" stroke-width="0.7" />
<line x1="235.22" y1="325" x2="235.22" y2="333.8" stroke="#222" stroke-width="0.7" />
<line x1="235.34" y1="325" x2="235.34" y2="333.8" stroke="#222" stroke-width="0.7" />
<line x1="235.48" y1="325" x2="235.48" y2="333.8" stroke="#222" stroke-width="0.7" />
<line x1="235.64" y1="325" x2="235.64" y2="333.8" stroke="#222" stroke-width="0.7" />
<line x1="236.4" y1="325" x2="236.4" y2="333.8" stroke="#222" stroke-width="0.7" />
<line x1="236.84" y1="325" x2="236.84" y2="333.8" stroke="#222" stroke-width="0.7" />
<line x1="236.9" y1="325" x2="236.9" y2="333.8" stroke="#222" stroke-width="0.7" />
<line x1="240.05" y1="325" x2="240.05" y2="333.8" stroke="#222" stroke-width="0.7" />
<line x1="240.09" y1="325" x2="240.09" y2="333.8" stroke="#222" stroke-width="0.7" />
<line x1="240.6" y1="325" x2="240.6" y2="333.8" stroke="#222" stroke-width="0.7" />
<line x1="241.07" y1="325" x2="241.07" y2="333.8" stroke="#222" stroke-width="0.7" />
<line x1="241.2" y1="325" x2="241.2" y2="333.8" stroke="#222" stroke-width="0.7" />
<line x1="241.44" y1="325" x2="241.44" y2="333.8" stroke="#222" stroke-width="0.7" />
<line x1="241.74" y1="325" x2="241.74" y2="333.8" stroke="#222" stroke-width="0.7" />
<line x1="241.88" y1="325" x2="241.88" y2="333.8" stroke="#222" stroke-width="0.7" />
<line x1="243.5" y1="325" x2="243.5" y2="333.8" stroke="#222" stroke-width="0.7" />
<line x1="244.17" y1="325" x2="244.17" y2="333.8" stroke="#222" stroke-width="0.7" />
<line x1="244.67" y1="325" x2="244.67" y2="333.8" stroke="#222" stroke-width="0.7" />
<line x1="245.19" y1="325" x2="245.19" y2="333.8" stroke="#222" stroke-width="0.7" />
<line x1="245.32" y1="325" x2="245.32" y2="333.8" stroke="#222" stroke-width="0.7" />
<line x1="245.68" y1="325" x2="245.68" y2="333.8" stroke="#222" stroke-width="0.7" />
<line x1="246.81" y1="325" x2="246.81" y2="333.8" stroke="#222" stroke-width="0.7" />
<line x1="247.28" y1="325" x2="247.28" y2="333.8" stroke="#222" stroke-width="0.7" />
<line x1="247.7" y1="325" x2="247.7" y2="333.8" stroke="#222" stroke-width="0.7" />
<line x1="248.42" y1="325" x2="248.42" y2="333.8" stroke="#222" stroke-width="0.7" />
<line x1="248.62" y1="325" x2="248.62" y2="333.8" stroke="#222" stroke-width="0.7" />
<line x1="249.26" y1="325" x2="249.26" y2="333.8" stroke="#222" stroke-width="0.7" />
<line x1="249.97" y1="325" x2="249.97" y2="333.8" stroke="#222" stroke-width="0.7" />
<line x1="252.93" y1="325" x2="252.93" y2="333.8" stroke="#222" stroke-width="0.7" />
<line x1="255.47" y1="325" x2="255.47" y2="333.8" stroke="#222" stroke-width="0.7" />
<line x1="259.96" y1="325" x2="259.96" y2="333.8" stroke="#222" stroke-width="0.7" />
<line x1="260.07" y1="325" x2="260.07" y2="333.8" stroke="#222" stroke-width="0.7" />
<line x1="260.93" y1="325" x2="260.93" y2="333.8" stroke="#222" stroke-width="0.7" />
<line x1="262.99" y1="325" x2="262.99" y2="333.8" stroke="#222" stroke-width="0.7" />
<line x1="263.7" y1="325" x2="263.7" y2="333.8" stroke="#222" stroke-width="0.7" />
<line x1="263.95" y1="325" x2="263.95" y2="333.8" stroke="#222" stroke-width="0.7" />
<line x1="263.95" y1="325" x2="263.95" y2="333.8" stroke="#222" stroke-width="0.7" />
<line x1="264.46" y1="325" x2="264.46" y2="333.8" stroke="#222" stroke-width="0.7" />
<line x1="264.62" y1="325" x2="264.62" y2="333.8" stroke="#222" stroke-width="0.7" />
<line x1="265.57" y1="325" x2="265.57" y2="333.8" stroke="#222" stroke-width="0.7" />
<line x1="265.66" y1="325" x2="265.66" y2="333.8" stroke="#222" stroke-width="0.7" />
<line x1="266.4" y1="325" x2="266.4" y2="333.8" stroke="#222" stroke-width="0.7" />
<line x1="267.75" y1="325" x2="267.75" y2="333.8" stroke="#222" stroke-width="0.7" />
<line x1="268.22" y1="325" x2="268.22" y2="333.8" stroke="#222" stroke-width="0.7" />
<line x1="268.49" y1="325" x2="268.49" y2="333.8" stroke="#222" stroke-width="0.7" />
<line x1="269.75" y1="325" x2="269.75" y2="333.8" stroke="#222" stroke-width="0.7" />
<line x1="269.96" y1="325" x2="269.96" y2="333.8" stroke="#222" stroke-width="0.7" />
<line x1="271.18" y1="325" x2="271.18" y2="333.8" stroke="#222" stroke-width="0.7" />
<line x1="271.44" y1="325" x2="271.44" y2="333.8" stroke="#222" stroke-width="0.7" />
<line x1="272.4" y1="325" x2="272.4" y2="333.8" stroke="#222" stroke-width="0.7" />
<line x1="272.74" y1="325" x2="272.74" y2="333.8" stroke="#222" stroke-width="0.7" />
<line x1="274.34" y1="325" x2="274.34" y2="333.8" stroke="#222" stroke-width="0.7" />
<line x1="275.42" y1="325" x2="275.42" y2="333.8" stroke="#222" stroke-width="0.7" />
<line x1="276.47" y1="325" x2="276.47" y2="333.8" stroke="#222" stroke-width="0.7" />
<line x1="277.06" y1="325" x2="277.06" y2="333.8" stroke="#222" stroke-width="0.7" />
<line x1="277.07" y1="325" x2="277.07" y2="333.8" stroke="#222" stroke-width="0.7" />
<line x1="277.48" y1="325" x2="277.48" y2="333.8" stroke="#222" stroke-width="0.7" />
<line x1="277.63" y1="325" x2="277.63" y2="333.8" stroke="#222" stroke-width="0.7" />
<line x1="278.62" y1="325" x2="278.62" y2="333.8" stroke="#222" stroke-width="0.7" />
<line x1="278.82" y1="325" x2="278.82" y2="333.8" stroke="#222" stroke-width="0.7" />
<line x1="278.86" y1="325" x2="278.86" y2="333.8" stroke="#222" stroke-width="0.7" />
<line x1="278.88" y1="325" x2="278.88" y2="333.8" stroke="#222" stroke-width="0.7" />
<line x1="278.99" y1="325" x2="278.99" y2="333.8" stroke="#222" stroke-width="0.7" />
<line x1="279.76" y1="325" x2="279.76" y2="333.8" stroke="#222" stroke-width="0.7" />
<line x1="280.16" y1="325" x2="280.16" y2="333.8" stroke="#222" stroke-width="0.7" />
<line x1="280.6" y1="325" x2="280.6" y2="333.8" stroke="#222" stroke-width="0.7" />
<line x1="281.2" y1="325" x2="281.2" y2="333.8" stroke="#222" stroke-width="0.7" />
<line x1="281.4" y1="325" x2="281.4" y2="333.8" stroke="#222" stroke-width="0.7" />
<line x1="281.68" y1="325" x2="281.68" y2="333.8" stroke="#222" stroke-width="0.7" />
<line x1="281.83" y1="325" x2="281.83" y2="333.8" stroke="#222" stroke-width="0.7" />
<line x1="282.23" y1="325" x2="282.23" y2="333.8" stroke="#222" stroke-width="0.7" />
<line x1="282.63" y1="325" x2="282.63" y2="333.8" stroke="#222" stroke-width="0.7" />
<line x1="283.31" y1="325" x2="283.31" y2="333.8" stroke="#222" stroke-width="0.7" />
<line x1="283.41" y1="325" x2="283.41" y2="333.8" stroke="#222" stroke-width="0.7" />
<line x1="283.97" y1="325" x2="283.97" y2="333.8" stroke="#222" stroke-width="0.7" />
<line x1="284.76" y1="325" x2="284.76" y2="333.8" stroke="#222" stroke-width="0.7" />
<line x1="284.91" y1="325" x2="284.91" y2="333.8" stroke="#222" stroke-width="0.7" />
<line x1="285.04" y1="325" x2="285.04" y2="333.8" stroke="#222" stroke-width="0.7" />
<line x1="288.22" y1="325" x2="288.22" y2="333.8" stroke="#222" stroke-width="0.7" />
<line x1="288.65" y1="325" x2="288.65" y2="333.8" stroke="#222" stroke-width="0.7" />
<line x1="288.94" y1="325" x2="288.94" y2="333.8" stroke="#222" stroke-width="0.7" />
<line x1="289.52" y1="325" x2="289.52" y2="333.8" stroke="#222" stroke-width="0.7" />
<line x1="289.71" y1="325" x2="289.71" y2="333.8" stroke="#222" stroke-width="0.7" />
<line x1="289.95" y1="325" x2="289.95" y2="333.8" stroke="#222" stroke-width="0.7" />
<line x1="291.35" y1="325" x2="291.35" y2="333.8" stroke="#222" stroke-width="0.7" />
<line x1="293.37" y1="325" x2="293.37" y2="333.8" stroke="#222" stroke-width="0.7" />
<line x1="294.17" y1="325" x2="294.17" y2="333.8" stroke="#222" stroke-width="0.7" />
<line x1="295.81" y1="325" x2="295.81" y2="333.8" stroke="#222" stroke-width="0.7" />
<line x1="296.15" y1="325" x2="296.15" y2="333.8" stroke="#222" stroke-width="0.7" />
<line x1="297.01" y1="325" x2="297.01" y2="333.8" stroke="#222" stroke-width="0.7" />
<line x1="297.49" y1="325" x2="297.49" y2="333.8" stroke="#222" stroke-width="0.7" />
<line x1="298" y1="325" x2="298" y2="333.8" stroke="#222" stroke-width="0.7" />
<line x1="298.67" y1="325" x2="298.67" y2="333.8" stroke="#222" stroke-width="0.7" />
<line x1="299.26" y1="325" x2="299.26" y2="333.8" stroke="#222" stroke-width="0.7" />
<line x1="299.83" y1="325" x2="299.83" y2="333.8" stroke="#222" stroke-width="0.7" />
<line x1="300.48" y1="325" x2="300.48" y2="333.8" stroke="#222" stroke-width="0.7" />
<line x1="301.52" y1="325" x2="301.52" y2="333.8" stroke="#222" stroke-width="0.7" />
<line x1="302" y1="325" x2="302" y2="333.8" stroke="#222" stroke-width="0.7" />
<line x1="302.35" y1="325" x2="302.35" y2="333.8" stroke="#222" stroke-width="0.7" />
<line x1="302.72" y1="325" x2="302.72" y2="333.8" stroke="#222" stroke-width="0.7" />
<line x1="303.01" y1="325" x2="303.01" y2="333.8" stroke="#222" stroke-width="0.7" />
<line x1="303.19" y1="325" x2="303.19" y2="333.8" stroke="#222" stroke-width="0.7" />
<polyline points="171.4,329.4 171.7,317.6 172.1,310.7 172.7,307.8 173.9,308.7 174.9,307.3 176.6,302.4 178.3,304.3 180.8,306.8 182.7,304.8 184.2,304.6 185.7,304.8 187.7,302.4 189.6,300.9 191.8,297.5 193.6,299.4 195.5,300.1 198.5,299.7 200,300.4 201.9,302.4 203.9,303.8 205.4,304.3 207.3,304.8 209.3,305.8 211.8,306.8 216,308.7 220.9,312 226.6,317.7 232.3,325.3 236.1,329.4 241.7,336.6 249.3,346.1 256.9,354.7 260,357.6 263,360 265.9,362 268.9,363.5 271.8,364 274.8,364.4 276.7,365.6 279.2,366.2 280.7,365.4 282.1,362.5 283.6,358.5 285.1,354.6 287.1,353.6 288.5,353.6 289.5,351.2 291.5,351.2 293,349.7 294.4,350.2 295.4,348.2 296.9,347.7 297.9,345.3 299.4,342.8 301.3,339.8 302.3,337.9 303.3,333.9 303.8,329.4" fill="none" stroke="#000" stroke-width="1.1" stroke-linejoin="round" />
<text x="171.2" y="357.1" font-size="5.6" fill="#2a2a2a" text-anchor="start" textLength="60.2" lengthAdjust="spacingAndGlyphs" stroke="#2a2a2a" stroke-width="0.1" style="">NES = –1.03; pval = 0.36</text>
<line x1="161.5" y1="311" x2="164.2" y2="311" stroke="#333333" stroke-width="0.9" />
<text x="157.8" y="312.9" font-size="6.2" fill="#3a3a3a" text-anchor="end" stroke="#3a3a3a" stroke-width="0.15" style="">0.1</text>
<line x1="161.5" y1="329.4" x2="164.2" y2="329.4" stroke="#333333" stroke-width="0.9" />
<text x="157.8" y="331.3" font-size="6.2" fill="#3a3a3a" text-anchor="end" stroke="#3a3a3a" stroke-width="0.15" style="">0.0</text>
<line x1="161.5" y1="347.8" x2="164.2" y2="347.8" stroke="#333333" stroke-width="0.9" />
<text x="157.8" y="349.7" font-size="6.2" fill="#3a3a3a" text-anchor="end" stroke="#3a3a3a" stroke-width="0.15" style="">−0.1</text>
<line x1="161.5" y1="366.2" x2="164.2" y2="366.2" stroke="#333333" stroke-width="0.9" />
<text x="157.8" y="368.1" font-size="6.2" fill="#3a3a3a" text-anchor="end" stroke="#3a3a3a" stroke-width="0.15" style="">−0.2</text>
<line x1="170.5" y1="369.4" x2="170.5" y2="372.2" stroke="#333333" stroke-width="0.9" />
<line x1="217.8" y1="369.4" x2="217.8" y2="372.2" stroke="#333333" stroke-width="0.9" />
<line x1="265.1" y1="369.4" x2="265.1" y2="372.2" stroke="#333333" stroke-width="0.9" />
<rect x="164.2" y="293.4" width="147.3" height="76" fill="none" stroke="#333333" stroke-width="1.1" />
<rect x="340.4" y="293.5" width="149.1" height="75.8" fill="#fff" stroke="none"/>
<line x1="340.9" y1="296.9" x2="489" y2="296.9" stroke="#555" stroke-width="1.0" stroke-dasharray="6 5.35" stroke-dashoffset="2.85"/>
<line x1="340.9" y1="367.1" x2="489" y2="367.1" stroke="#555" stroke-width="1.0" stroke-dasharray="6 5.35" stroke-dashoffset="2.85"/>
<line x1="340.4" y1="334.9" x2="489.5" y2="334.9" stroke="#222" stroke-width="1.0" />
<line x1="347.34" y1="330.5" x2="347.34" y2="339.3" stroke="#222" stroke-width="0.7" />
<line x1="347.82" y1="330.5" x2="347.82" y2="339.3" stroke="#222" stroke-width="0.7" />
<line x1="347.87" y1="330.5" x2="347.87" y2="339.3" stroke="#222" stroke-width="0.7" />
<line x1="349.09" y1="330.5" x2="349.09" y2="339.3" stroke="#222" stroke-width="0.7" />
<line x1="349.11" y1="330.5" x2="349.11" y2="339.3" stroke="#222" stroke-width="0.7" />
<line x1="349.25" y1="330.5" x2="349.25" y2="339.3" stroke="#222" stroke-width="0.7" />
<line x1="349.35" y1="330.5" x2="349.35" y2="339.3" stroke="#222" stroke-width="0.7" />
<line x1="350.01" y1="330.5" x2="350.01" y2="339.3" stroke="#222" stroke-width="0.7" />
<line x1="353.97" y1="330.5" x2="353.97" y2="339.3" stroke="#222" stroke-width="0.7" />
<line x1="354.15" y1="330.5" x2="354.15" y2="339.3" stroke="#222" stroke-width="0.7" />
<line x1="354.57" y1="330.5" x2="354.57" y2="339.3" stroke="#222" stroke-width="0.7" />
<line x1="354.78" y1="330.5" x2="354.78" y2="339.3" stroke="#222" stroke-width="0.7" />
<line x1="355.03" y1="330.5" x2="355.03" y2="339.3" stroke="#222" stroke-width="0.7" />
<line x1="355.34" y1="330.5" x2="355.34" y2="339.3" stroke="#222" stroke-width="0.7" />
<line x1="355.56" y1="330.5" x2="355.56" y2="339.3" stroke="#222" stroke-width="0.7" />
<line x1="356.44" y1="330.5" x2="356.44" y2="339.3" stroke="#222" stroke-width="0.7" />
<line x1="356.9" y1="330.5" x2="356.9" y2="339.3" stroke="#222" stroke-width="0.7" />
<line x1="357.08" y1="330.5" x2="357.08" y2="339.3" stroke="#222" stroke-width="0.7" />
<line x1="357.2" y1="330.5" x2="357.2" y2="339.3" stroke="#222" stroke-width="0.7" />
<line x1="357.73" y1="330.5" x2="357.73" y2="339.3" stroke="#222" stroke-width="0.7" />
<line x1="357.88" y1="330.5" x2="357.88" y2="339.3" stroke="#222" stroke-width="0.7" />
<line x1="358.44" y1="330.5" x2="358.44" y2="339.3" stroke="#222" stroke-width="0.7" />
<line x1="359.37" y1="330.5" x2="359.37" y2="339.3" stroke="#222" stroke-width="0.7" />
<line x1="359.49" y1="330.5" x2="359.49" y2="339.3" stroke="#222" stroke-width="0.7" />
<line x1="360.96" y1="330.5" x2="360.96" y2="339.3" stroke="#222" stroke-width="0.7" />
<line x1="365.4" y1="330.5" x2="365.4" y2="339.3" stroke="#222" stroke-width="0.7" />
<line x1="371.71" y1="330.5" x2="371.71" y2="339.3" stroke="#222" stroke-width="0.7" />
<line x1="372.01" y1="330.5" x2="372.01" y2="339.3" stroke="#222" stroke-width="0.7" />
<line x1="373.94" y1="330.5" x2="373.94" y2="339.3" stroke="#222" stroke-width="0.7" />
<line x1="375.5" y1="330.5" x2="375.5" y2="339.3" stroke="#222" stroke-width="0.7" />
<line x1="376.89" y1="330.5" x2="376.89" y2="339.3" stroke="#222" stroke-width="0.7" />
<line x1="379.51" y1="330.5" x2="379.51" y2="339.3" stroke="#222" stroke-width="0.7" />
<line x1="380.71" y1="330.5" x2="380.71" y2="339.3" stroke="#222" stroke-width="0.7" />
<line x1="380.86" y1="330.5" x2="380.86" y2="339.3" stroke="#222" stroke-width="0.7" />
<line x1="381.07" y1="330.5" x2="381.07" y2="339.3" stroke="#222" stroke-width="0.7" />
<line x1="381.5" y1="330.5" x2="381.5" y2="339.3" stroke="#222" stroke-width="0.7" />
<line x1="382.98" y1="330.5" x2="382.98" y2="339.3" stroke="#222" stroke-width="0.7" />
<line x1="383.92" y1="330.5" x2="383.92" y2="339.3" stroke="#222" stroke-width="0.7" />
<line x1="385.47" y1="330.5" x2="385.47" y2="339.3" stroke="#222" stroke-width="0.7" />
<line x1="385.51" y1="330.5" x2="385.51" y2="339.3" stroke="#222" stroke-width="0.7" />
<line x1="385.91" y1="330.5" x2="385.91" y2="339.3" stroke="#222" stroke-width="0.7" />
<line x1="385.97" y1="330.5" x2="385.97" y2="339.3" stroke="#222" stroke-width="0.7" />
<line x1="386.09" y1="330.5" x2="386.09" y2="339.3" stroke="#222" stroke-width="0.7" />
<line x1="387.26" y1="330.5" x2="387.26" y2="339.3" stroke="#222" stroke-width="0.7" />
<line x1="387.5" y1="330.5" x2="387.5" y2="339.3" stroke="#222" stroke-width="0.7" />
<line x1="387.57" y1="330.5" x2="387.57" y2="339.3" stroke="#222" stroke-width="0.7" />
<line x1="388.99" y1="330.5" x2="388.99" y2="339.3" stroke="#222" stroke-width="0.7" />
<line x1="389.09" y1="330.5" x2="389.09" y2="339.3" stroke="#222" stroke-width="0.7" />
<line x1="389.37" y1="330.5" x2="389.37" y2="339.3" stroke="#222" stroke-width="0.7" />
<line x1="391.74" y1="330.5" x2="391.74" y2="339.3" stroke="#222" stroke-width="0.7" />
<line x1="392.06" y1="330.5" x2="392.06" y2="339.3" stroke="#222" stroke-width="0.7" />
<line x1="392.26" y1="330.5" x2="392.26" y2="339.3" stroke="#222" stroke-width="0.7" />
<line x1="392.29" y1="330.5" x2="392.29" y2="339.3" stroke="#222" stroke-width="0.7" />
<line x1="392.31" y1="330.5" x2="392.31" y2="339.3" stroke="#222" stroke-width="0.7" />
<line x1="392.47" y1="330.5" x2="392.47" y2="339.3" stroke="#222" stroke-width="0.7" />
<line x1="392.72" y1="330.5" x2="392.72" y2="339.3" stroke="#222" stroke-width="0.7" />
<line x1="393.51" y1="330.5" x2="393.51" y2="339.3" stroke="#222" stroke-width="0.7" />
<line x1="393.89" y1="330.5" x2="393.89" y2="339.3" stroke="#222" stroke-width="0.7" />
<line x1="395.21" y1="330.5" x2="395.21" y2="339.3" stroke="#222" stroke-width="0.7" />
<line x1="395.37" y1="330.5" x2="395.37" y2="339.3" stroke="#222" stroke-width="0.7" />
<line x1="395.53" y1="330.5" x2="395.53" y2="339.3" stroke="#222" stroke-width="0.7" />
<line x1="395.58" y1="330.5" x2="395.58" y2="339.3" stroke="#222" stroke-width="0.7" />
<line x1="395.62" y1="330.5" x2="395.62" y2="339.3" stroke="#222" stroke-width="0.7" />
<line x1="395.97" y1="330.5" x2="395.97" y2="339.3" stroke="#222" stroke-width="0.7" />
<line x1="396.05" y1="330.5" x2="396.05" y2="339.3" stroke="#222" stroke-width="0.7" />
<line x1="396.36" y1="330.5" x2="396.36" y2="339.3" stroke="#222" stroke-width="0.7" />
<line x1="396.56" y1="330.5" x2="396.56" y2="339.3" stroke="#222" stroke-width="0.7" />
<line x1="397.33" y1="330.5" x2="397.33" y2="339.3" stroke="#222" stroke-width="0.7" />
<line x1="397.48" y1="330.5" x2="397.48" y2="339.3" stroke="#222" stroke-width="0.7" />
<line x1="397.79" y1="330.5" x2="397.79" y2="339.3" stroke="#222" stroke-width="0.7" />
<line x1="398.86" y1="330.5" x2="398.86" y2="339.3" stroke="#222" stroke-width="0.7" />
<line x1="399.48" y1="330.5" x2="399.48" y2="339.3" stroke="#222" stroke-width="0.7" />
<line x1="400.11" y1="330.5" x2="400.11" y2="339.3" stroke="#222" stroke-width="0.7" />
<line x1="401.13" y1="330.5" x2="401.13" y2="339.3" stroke="#222" stroke-width="0.7" />
<line x1="401.58" y1="330.5" x2="401.58" y2="339.3" stroke="#222" stroke-width="0.7" />
<line x1="401.81" y1="330.5" x2="401.81" y2="339.3" stroke="#222" stroke-width="0.7" />
<line x1="402.08" y1="330.5" x2="402.08" y2="339.3" stroke="#222" stroke-width="0.7" />
<line x1="402.54" y1="330.5" x2="402.54" y2="339.3" stroke="#222" stroke-width="0.7" />
<line x1="403.42" y1="330.5" x2="403.42" y2="339.3" stroke="#222" stroke-width="0.7" />
<line x1="404.23" y1="330.5" x2="404.23" y2="339.3" stroke="#222" stroke-width="0.7" />
<line x1="405.63" y1="330.5" x2="405.63" y2="339.3" stroke="#222" stroke-width="0.7" />
<line x1="405.66" y1="330.5" x2="405.66" y2="339.3" stroke="#222" stroke-width="0.7" />
<line x1="407.58" y1="330.5" x2="407.58" y2="339.3" stroke="#222" stroke-width="0.7" />
<line x1="412.28" y1="330.5" x2="412.28" y2="339.3" stroke="#222" stroke-width="0.7" />
<line x1="417.16" y1="330.5" x2="417.16" y2="339.3" stroke="#222" stroke-width="0.7" />
<line x1="417.16" y1="330.5" x2="417.16" y2="339.3" stroke="#222" stroke-width="0.7" />
<line x1="417.66" y1="330.5" x2="417.66" y2="339.3" stroke="#222" stroke-width="0.7" />
<line x1="417.9" y1="330.5" x2="417.9" y2="339.3" stroke="#222" stroke-width="0.7" />
<line x1="418.13" y1="330.5" x2="418.13" y2="339.3" stroke="#222" stroke-width="0.7" />
<line x1="418.15" y1="330.5" x2="418.15" y2="339.3" stroke="#222" stroke-width="0.7" />
<line x1="418.27" y1="330.5" x2="418.27" y2="339.3" stroke="#222" stroke-width="0.7" />
<line x1="418.41" y1="330.5" x2="418.41" y2="339.3" stroke="#222" stroke-width="0.7" />
<line x1="418.61" y1="330.5" x2="418.61" y2="339.3" stroke="#222" stroke-width="0.7" />
<line x1="418.75" y1="330.5" x2="418.75" y2="339.3" stroke="#222" stroke-width="0.7" />
<line x1="419.64" y1="330.5" x2="419.64" y2="339.3" stroke="#222" stroke-width="0.7" />
<line x1="421.21" y1="330.5" x2="421.21" y2="339.3" stroke="#222" stroke-width="0.7" />
<line x1="421.42" y1="330.5" x2="421.42" y2="339.3" stroke="#222" stroke-width="0.7" />
<line x1="427.53" y1="330.5" x2="427.53" y2="339.3" stroke="#222" stroke-width="0.7" />
<line x1="427.73" y1="330.5" x2="427.73" y2="339.3" stroke="#222" stroke-width="0.7" />
<line x1="427.91" y1="330.5" x2="427.91" y2="339.3" stroke="#222" stroke-width="0.7" />
<line x1="428.21" y1="330.5" x2="428.21" y2="339.3" stroke="#222" stroke-width="0.7" />
<line x1="428.73" y1="330.5" x2="428.73" y2="339.3" stroke="#222" stroke-width="0.7" />
<line x1="429.02" y1="330.5" x2="429.02" y2="339.3" stroke="#222" stroke-width="0.7" />
<line x1="429.06" y1="330.5" x2="429.06" y2="339.3" stroke="#222" stroke-width="0.7" />
<line x1="429.68" y1="330.5" x2="429.68" y2="339.3" stroke="#222" stroke-width="0.7" />
<line x1="431.17" y1="330.5" x2="431.17" y2="339.3" stroke="#222" stroke-width="0.7" />
<line x1="431.55" y1="330.5" x2="431.55" y2="339.3" stroke="#222" stroke-width="0.7" />
<line x1="431.64" y1="330.5" x2="431.64" y2="339.3" stroke="#222" stroke-width="0.7" />
<line x1="433.33" y1="330.5" x2="433.33" y2="339.3" stroke="#222" stroke-width="0.7" />
<line x1="433.38" y1="330.5" x2="433.38" y2="339.3" stroke="#222" stroke-width="0.7" />
<line x1="434.6" y1="330.5" x2="434.6" y2="339.3" stroke="#222" stroke-width="0.7" />
<line x1="435.09" y1="330.5" x2="435.09" y2="339.3" stroke="#222" stroke-width="0.7" />
<line x1="435.37" y1="330.5" x2="435.37" y2="339.3" stroke="#222" stroke-width="0.7" />
<line x1="439.94" y1="330.5" x2="439.94" y2="339.3" stroke="#222" stroke-width="0.7" />
<line x1="440.15" y1="330.5" x2="440.15" y2="339.3" stroke="#222" stroke-width="0.7" />
<line x1="440.64" y1="330.5" x2="440.64" y2="339.3" stroke="#222" stroke-width="0.7" />
<line x1="440.84" y1="330.5" x2="440.84" y2="339.3" stroke="#222" stroke-width="0.7" />
<line x1="441.32" y1="330.5" x2="441.32" y2="339.3" stroke="#222" stroke-width="0.7" />
<line x1="441.75" y1="330.5" x2="441.75" y2="339.3" stroke="#222" stroke-width="0.7" />
<line x1="441.88" y1="330.5" x2="441.88" y2="339.3" stroke="#222" stroke-width="0.7" />
<line x1="443.07" y1="330.5" x2="443.07" y2="339.3" stroke="#222" stroke-width="0.7" />
<line x1="443.86" y1="330.5" x2="443.86" y2="339.3" stroke="#222" stroke-width="0.7" />
<line x1="443.95" y1="330.5" x2="443.95" y2="339.3" stroke="#222" stroke-width="0.7" />
<line x1="444.37" y1="330.5" x2="444.37" y2="339.3" stroke="#222" stroke-width="0.7" />
<line x1="445.08" y1="330.5" x2="445.08" y2="339.3" stroke="#222" stroke-width="0.7" />
<line x1="447.64" y1="330.5" x2="447.64" y2="339.3" stroke="#222" stroke-width="0.7" />
<line x1="449.14" y1="330.5" x2="449.14" y2="339.3" stroke="#222" stroke-width="0.7" />
<line x1="449.2" y1="330.5" x2="449.2" y2="339.3" stroke="#222" stroke-width="0.7" />
<line x1="449.5" y1="330.5" x2="449.5" y2="339.3" stroke="#222" stroke-width="0.7" />
<line x1="449.78" y1="330.5" x2="449.78" y2="339.3" stroke="#222" stroke-width="0.7" />
<line x1="449.79" y1="330.5" x2="449.79" y2="339.3" stroke="#222" stroke-width="0.7" />
<line x1="450.34" y1="330.5" x2="450.34" y2="339.3" stroke="#222" stroke-width="0.7" />
<line x1="450.4" y1="330.5" x2="450.4" y2="339.3" stroke="#222" stroke-width="0.7" />
<line x1="450.63" y1="330.5" x2="450.63" y2="339.3" stroke="#222" stroke-width="0.7" />
<line x1="450.74" y1="330.5" x2="450.74" y2="339.3" stroke="#222" stroke-width="0.7" />
<line x1="451.22" y1="330.5" x2="451.22" y2="339.3" stroke="#222" stroke-width="0.7" />
<line x1="451.96" y1="330.5" x2="451.96" y2="339.3" stroke="#222" stroke-width="0.7" />
<line x1="452.43" y1="330.5" x2="452.43" y2="339.3" stroke="#222" stroke-width="0.7" />
<line x1="454.59" y1="330.5" x2="454.59" y2="339.3" stroke="#222" stroke-width="0.7" />
<line x1="454.89" y1="330.5" x2="454.89" y2="339.3" stroke="#222" stroke-width="0.7" />
<line x1="456.9" y1="330.5" x2="456.9" y2="339.3" stroke="#222" stroke-width="0.7" />
<line x1="459.07" y1="330.5" x2="459.07" y2="339.3" stroke="#222" stroke-width="0.7" />
<line x1="461.34" y1="330.5" x2="461.34" y2="339.3" stroke="#222" stroke-width="0.7" />
<line x1="463.19" y1="330.5" x2="463.19" y2="339.3" stroke="#222" stroke-width="0.7" />
<line x1="463.89" y1="330.5" x2="463.89" y2="339.3" stroke="#222" stroke-width="0.7" />
<line x1="464.41" y1="330.5" x2="464.41" y2="339.3" stroke="#222" stroke-width="0.7" />
<line x1="465.23" y1="330.5" x2="465.23" y2="339.3" stroke="#222" stroke-width="0.7" />
<line x1="465.59" y1="330.5" x2="465.59" y2="339.3" stroke="#222" stroke-width="0.7" />
<line x1="465.63" y1="330.5" x2="465.63" y2="339.3" stroke="#222" stroke-width="0.7" />
<line x1="465.63" y1="330.5" x2="465.63" y2="339.3" stroke="#222" stroke-width="0.7" />
<line x1="466.73" y1="330.5" x2="466.73" y2="339.3" stroke="#222" stroke-width="0.7" />
<line x1="468.06" y1="330.5" x2="468.06" y2="339.3" stroke="#222" stroke-width="0.7" />
<line x1="468.63" y1="330.5" x2="468.63" y2="339.3" stroke="#222" stroke-width="0.7" />
<line x1="468.88" y1="330.5" x2="468.88" y2="339.3" stroke="#222" stroke-width="0.7" />
<line x1="470.73" y1="330.5" x2="470.73" y2="339.3" stroke="#222" stroke-width="0.7" />
<line x1="471.22" y1="330.5" x2="471.22" y2="339.3" stroke="#222" stroke-width="0.7" />
<line x1="471.34" y1="330.5" x2="471.34" y2="339.3" stroke="#222" stroke-width="0.7" />
<line x1="472.49" y1="330.5" x2="472.49" y2="339.3" stroke="#222" stroke-width="0.7" />
<line x1="472.9" y1="330.5" x2="472.9" y2="339.3" stroke="#222" stroke-width="0.7" />
<line x1="473.38" y1="330.5" x2="473.38" y2="339.3" stroke="#222" stroke-width="0.7" />
<line x1="474.02" y1="330.5" x2="474.02" y2="339.3" stroke="#222" stroke-width="0.7" />
<line x1="474.03" y1="330.5" x2="474.03" y2="339.3" stroke="#222" stroke-width="0.7" />
<line x1="474.27" y1="330.5" x2="474.27" y2="339.3" stroke="#222" stroke-width="0.7" />
<line x1="475.27" y1="330.5" x2="475.27" y2="339.3" stroke="#222" stroke-width="0.7" />
<line x1="478.32" y1="330.5" x2="478.32" y2="339.3" stroke="#222" stroke-width="0.7" />
<line x1="478.5" y1="330.5" x2="478.5" y2="339.3" stroke="#222" stroke-width="0.7" />
<line x1="478.72" y1="330.5" x2="478.72" y2="339.3" stroke="#222" stroke-width="0.7" />
<line x1="478.92" y1="330.5" x2="478.92" y2="339.3" stroke="#222" stroke-width="0.7" />
<line x1="479.34" y1="330.5" x2="479.34" y2="339.3" stroke="#222" stroke-width="0.7" />
<line x1="479.76" y1="330.5" x2="479.76" y2="339.3" stroke="#222" stroke-width="0.7" />
<line x1="480.98" y1="330.5" x2="480.98" y2="339.3" stroke="#222" stroke-width="0.7" />
<polyline points="347.1,334.9 347.4,322.5 348.1,316.6 349.4,313.7 350.9,309.7 352.3,311.2 353.8,309.2 355.3,305.8 356.8,303.8 358.2,300.4 359.7,298.9 361.2,297.2 363.2,298.4 365.1,300.4 366.6,300.1 368.6,301.9 370.5,304.3 372.5,305.6 374.5,305.3 376.4,306.8 378.4,308.3 380.9,310.2 383.3,311.2 385.3,310.2 387.3,310.7 389.2,312.2 392,314.2 395.9,314.8 401.6,318.6 407.3,324.3 412,331.5 419.6,338.5 427.2,347.1 434.8,354 436,354.9 438.9,357.8 441.8,359.7 444.7,362.6 448.5,365.8 450.4,363.4 453.3,362.6 455.2,365 459.1,365.8 460,365 463.9,366.6 464.8,366 466.3,362.6 468.7,362.6 471.6,361.6 473,357.8 475,353.9 476.4,352.5 477.8,349.1 479.3,343.8 480.7,340 481.8,334.9" fill="none" stroke="#000" stroke-width="1.1" stroke-linejoin="round" />
<text x="417.3" y="304.4" font-size="5.6" fill="#2a2a2a" text-anchor="start" textLength="60.7" lengthAdjust="spacingAndGlyphs" stroke="#2a2a2a" stroke-width="0.1" style="">NES = 1.10; pval = 0.255</text>
<line x1="337.7" y1="301.1" x2="340.4" y2="301.1" stroke="#333333" stroke-width="0.9" />
<text x="334" y="303" font-size="6.2" fill="#3a3a3a" text-anchor="end" stroke="#3a3a3a" stroke-width="0.15" style="">0.2</text>
<line x1="337.7" y1="318" x2="340.4" y2="318" stroke="#333333" stroke-width="0.9" />
<text x="334" y="319.9" font-size="6.2" fill="#3a3a3a" text-anchor="end" stroke="#3a3a3a" stroke-width="0.15" style="">0.1</text>
<line x1="337.7" y1="334.9" x2="340.4" y2="334.9" stroke="#333333" stroke-width="0.9" />
<text x="334" y="336.8" font-size="6.2" fill="#3a3a3a" text-anchor="end" stroke="#3a3a3a" stroke-width="0.15" style="">0.0</text>
<line x1="337.7" y1="351.8" x2="340.4" y2="351.8" stroke="#333333" stroke-width="0.9" />
<text x="334" y="353.7" font-size="6.2" fill="#3a3a3a" text-anchor="end" stroke="#3a3a3a" stroke-width="0.15" style="">−0.1</text>
<line x1="337.7" y1="368.7" x2="340.4" y2="368.7" stroke="#333333" stroke-width="0.9" />
<text x="334" y="370.6" font-size="6.2" fill="#3a3a3a" text-anchor="end" stroke="#3a3a3a" stroke-width="0.15" style="">−0.2</text>
<line x1="346.7" y1="369.3" x2="346.7" y2="372.1" stroke="#333333" stroke-width="0.9" />
<line x1="396.2" y1="369.3" x2="396.2" y2="372.1" stroke="#333333" stroke-width="0.9" />
<line x1="445.9" y1="369.3" x2="445.9" y2="372.1" stroke="#333333" stroke-width="0.9" />
<rect x="340.4" y="293.5" width="149.1" height="75.8" fill="none" stroke="#333333" stroke-width="1.1" />
<text x="0" y="0" font-size="7.0" fill="#444" stroke="#444" stroke-width="0.18" text-anchor="middle" transform="translate(140.5,66.4) rotate(-90)" textLength="53" lengthAdjust="spacingAndGlyphs">Enrichment score</text>
<text x="0" y="0" font-size="7.0" fill="#444" stroke="#444" stroke-width="0.18" text-anchor="middle" transform="translate(140.5,154.95) rotate(-90)" textLength="53" lengthAdjust="spacingAndGlyphs">Enrichment score</text>
<text x="0" y="0" font-size="7.0" fill="#444" stroke="#444" stroke-width="0.18" text-anchor="middle" transform="translate(140.5,243.2) rotate(-90)" textLength="53" lengthAdjust="spacingAndGlyphs">Enrichment score</text>
<text x="0" y="0" font-size="7.0" fill="#444" stroke="#444" stroke-width="0.18" text-anchor="middle" transform="translate(140.5,331.4) rotate(-90)" textLength="53" lengthAdjust="spacingAndGlyphs">Enrichment score</text>
<text x="170.5" y="381.1" font-size="6.6" fill="#3a3a3a" text-anchor="middle" stroke="#3a3a3a" stroke-width="0.12" style="">0</text>
<text x="217.8" y="381.1" font-size="6.6" fill="#3a3a3a" text-anchor="middle" stroke="#3a3a3a" stroke-width="0.12" style="">5000</text>
<text x="265.1" y="381.1" font-size="6.6" fill="#3a3a3a" text-anchor="middle" stroke="#3a3a3a" stroke-width="0.12" style="">10000</text>
<text x="346.7" y="381.1" font-size="6.6" fill="#3a3a3a" text-anchor="middle" stroke="#3a3a3a" stroke-width="0.12" style="">0</text>
<text x="396.2" y="381.1" font-size="6.6" fill="#3a3a3a" text-anchor="middle" stroke="#3a3a3a" stroke-width="0.12" style="">5000</text>
<text x="445.9" y="381.1" font-size="6.6" fill="#3a3a3a" text-anchor="middle" stroke="#3a3a3a" stroke-width="0.12" style="">10000</text>
<text x="170.2" y="392.9" font-size="8.5" fill="#a52a4d" text-anchor="middle" textLength="23.5" lengthAdjust="spacingAndGlyphs" stroke="#a52a4d" stroke-width="0.25" style="">Tcon+</text>
<text x="170.2" y="403.3" font-size="8.5" fill="#a52a4d" text-anchor="middle" textLength="16.8" lengthAdjust="spacingAndGlyphs" stroke="#a52a4d" stroke-width="0.25" style="">Treg</text>
<text x="237.5" y="393.1" font-size="8.2" fill="#333" text-anchor="middle" textLength="14.8" lengthAdjust="spacingAndGlyphs" stroke="#333" stroke-width="0.12" style="">Rank</text>
<text x="306" y="393" font-size="8.5" fill="#3b5d88" text-anchor="middle" textLength="18.0" lengthAdjust="spacingAndGlyphs" stroke="#3b5d88" stroke-width="0.12" style="">Tcon</text>
<text x="347.2" y="392.9" font-size="8.5" fill="#a52a4d" text-anchor="middle" textLength="23.5" lengthAdjust="spacingAndGlyphs" stroke="#a52a4d" stroke-width="0.25" style="">Tcon+</text>
<text x="347.2" y="403.3" font-size="8.5" fill="#a52a4d" text-anchor="middle" textLength="16.8" lengthAdjust="spacingAndGlyphs" stroke="#a52a4d" stroke-width="0.25" style="">Treg</text>
<text x="415.2" y="393.1" font-size="8.2" fill="#333" text-anchor="middle" textLength="14.8" lengthAdjust="spacingAndGlyphs" stroke="#333" stroke-width="0.12" style="">Rank</text>
<text x="484.8" y="393" font-size="8.5" fill="#3b5d88" text-anchor="middle" textLength="18.0" lengthAdjust="spacingAndGlyphs" stroke="#3b5d88" stroke-width="0.12" style="">Tcon</text>
<rect x="507" y="28.6" width="12.3" height="75.6" fill="#c7c6cb" stroke="#333333" stroke-width="1.1" />
<text x="0" y="0" font-size="8.2" fill="#1a1a1a" stroke="#1a1a1a" stroke-width="0.1" text-anchor="middle" transform="translate(510.4,66.2) rotate(90)" textLength="24.6" lengthAdjust="spacingAndGlyphs">TGF-beta</text>
<text x="0" y="0" font-size="4.3" fill="#3a3a3a" text-anchor="middle" transform="translate(495.9,63.5) rotate(90)" textLength="61" lengthAdjust="spacingAndGlyphs">HALLMARK_TGF_BETA_SIGNALING</text>
<rect x="507" y="117.6" width="12.3" height="75.6" fill="#c7c6cb" stroke="#333333" stroke-width="1.1" />
<text x="0" y="0" font-size="8.2" fill="#1a1a1a" stroke="#1a1a1a" stroke-width="0.1" text-anchor="middle" transform="translate(510.4,155.4) rotate(90)" textLength="14.3" lengthAdjust="spacingAndGlyphs">IL-10</text>
<text x="0" y="0" font-size="4.3" fill="#3a3a3a" text-anchor="middle" transform="translate(495.9,153.5) rotate(90)" textLength="76.5" lengthAdjust="spacingAndGlyphs">REACTOME_INTERLEUKIN_10_SIGNALING</text>
<rect x="507" y="206.5" width="12.3" height="75.9" fill="#c7c6cb" stroke="#333333" stroke-width="1.1" />
<text x="0" y="0" font-size="8.2" fill="#1a1a1a" stroke="#1a1a1a" stroke-width="0.1" text-anchor="middle" transform="translate(510.4,244.7) rotate(90)" textLength="14.8" lengthAdjust="spacingAndGlyphs">IL-35</text>
<text x="0" y="0" font-size="4.3" fill="#3a3a3a" text-anchor="middle" transform="translate(499.6,244.5) rotate(90)" textLength="72.6" lengthAdjust="spacingAndGlyphs">GSE24210_CTRL_VS_IL35_TREATED_</text>
<text x="0" y="0" font-size="4.3" fill="#3a3a3a" text-anchor="middle" transform="translate(492.9,244.5) rotate(90)" textLength="46.0" lengthAdjust="spacingAndGlyphs">TCONV_CD4_TCELL_DN</text>
<rect x="507" y="293.4" width="12.3" height="77.4" fill="#c7c6cb" stroke="#333333" stroke-width="1.1" />
<text x="0" y="0" font-size="8.2" fill="#1a1a1a" stroke="#1a1a1a" stroke-width="0.1" text-anchor="middle" transform="translate(510.4,331.7) rotate(90)" textLength="9.8" lengthAdjust="spacingAndGlyphs">IL-2</text>
<text x="0" y="0" font-size="4.3" fill="#3a3a3a" text-anchor="middle" transform="translate(495.9,327) rotate(90)" textLength="58" lengthAdjust="spacingAndGlyphs">HALLMARK_IL2_STAT5_SIGNALING</text>
</svg>
</body></html>
